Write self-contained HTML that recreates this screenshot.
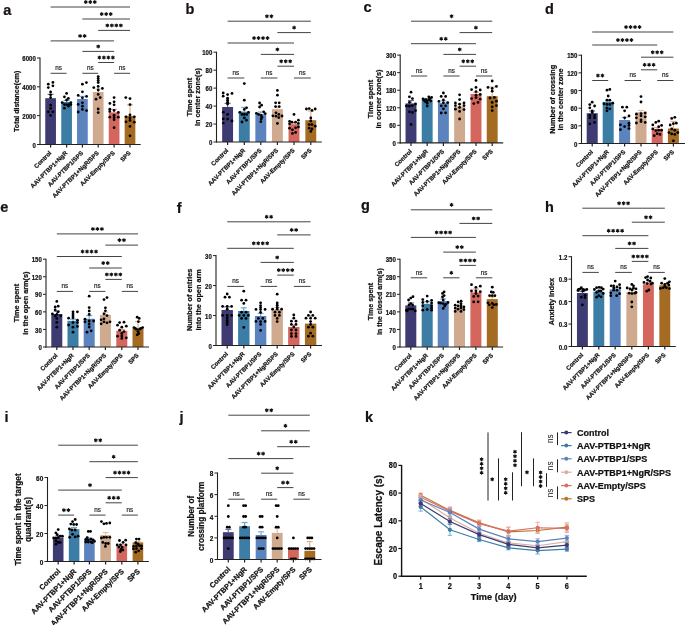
<!DOCTYPE html>
<html><head><meta charset="utf-8"><style>
html,body{margin:0;padding:0;background:#fff;}
svg{display:block;will-change:transform;}
text{font-family:"Liberation Sans", sans-serif;}
</style></head><body>
<svg width="685" height="625" viewBox="0 0 685 625">
<rect width="685" height="625" fill="#fff"/>
<text x="3.3" y="14.8" font-size="14.5" font-weight="bold" text-anchor="start" fill="#1a1212" stroke="#1a1212" stroke-width="0.22">a</text>
<rect x="45.25" y="98.2" width="10.7" height="46.3" fill="#3e3a72"/>
<rect x="61.25" y="102" width="10.7" height="42.5" fill="#3c7da6"/>
<rect x="77.05" y="99" width="10.7" height="45.5" fill="#5b83be"/>
<rect x="92.85" y="92" width="10.7" height="52.5" fill="#cfaa8f"/>
<rect x="108.75" y="112.4" width="10.7" height="32.1" fill="#d4665e"/>
<rect x="124.65" y="115.9" width="10.7" height="28.6" fill="#a56b22"/>
<line x1="50.6" y1="98.2" x2="50.6" y2="94.4" stroke="#6a66a0" stroke-width="1.2"/>
<line x1="47.6" y1="94.4" x2="53.6" y2="94.4" stroke="#6a66a0" stroke-width="1.2"/>
<line x1="66.6" y1="102" x2="66.6" y2="100.5" stroke="#6aa6cc" stroke-width="1.2"/>
<line x1="63.6" y1="100.5" x2="69.6" y2="100.5" stroke="#6aa6cc" stroke-width="1.2"/>
<line x1="82.4" y1="99" x2="82.4" y2="96.4" stroke="#86a6da" stroke-width="1.2"/>
<line x1="79.4" y1="96.4" x2="85.4" y2="96.4" stroke="#86a6da" stroke-width="1.2"/>
<line x1="98.2" y1="92" x2="98.2" y2="89" stroke="#e4c2aa" stroke-width="1.2"/>
<line x1="95.2" y1="89" x2="101.2" y2="89" stroke="#e4c2aa" stroke-width="1.2"/>
<line x1="114.1" y1="112.4" x2="114.1" y2="109.4" stroke="#f09a92" stroke-width="1.2"/>
<line x1="111.1" y1="109.4" x2="117.1" y2="109.4" stroke="#f09a92" stroke-width="1.2"/>
<line x1="130" y1="115.9" x2="130" y2="105" stroke="#e0b585" stroke-width="1.2"/>
<line x1="127" y1="105" x2="133" y2="105" stroke="#e0b585" stroke-width="1.2"/>
<circle cx="48.3" cy="84.2" r="1.4" fill="#000"/>
<circle cx="52.9" cy="82.4" r="1.4" fill="#000"/>
<circle cx="48.3" cy="87.6" r="1.4" fill="#000"/>
<circle cx="52.9" cy="85.8" r="1.4" fill="#000"/>
<circle cx="50.6" cy="92" r="1.4" fill="#000"/>
<circle cx="50.6" cy="94.8" r="1.4" fill="#000"/>
<circle cx="50.6" cy="97.6" r="1.4" fill="#000"/>
<circle cx="50.6" cy="105.2" r="1.4" fill="#000"/>
<circle cx="50.6" cy="108.4" r="1.4" fill="#000"/>
<circle cx="48.3" cy="111.8" r="1.4" fill="#000"/>
<circle cx="52.9" cy="111.8" r="1.4" fill="#000"/>
<circle cx="50.6" cy="115.4" r="1.4" fill="#000"/>
<circle cx="66.6" cy="93.4" r="1.4" fill="#000"/>
<circle cx="64.4" cy="96.8" r="1.4" fill="#000"/>
<circle cx="68.4" cy="98.4" r="1.4" fill="#000"/>
<circle cx="66.6" cy="100" r="1.4" fill="#000"/>
<circle cx="62.2" cy="102.6" r="1.4" fill="#000"/>
<circle cx="70.8" cy="102.6" r="1.4" fill="#000"/>
<circle cx="64.4" cy="104.6" r="1.4" fill="#000"/>
<circle cx="66.6" cy="104.6" r="1.4" fill="#000"/>
<circle cx="68.8" cy="104.6" r="1.4" fill="#000"/>
<circle cx="70.8" cy="104.6" r="1.4" fill="#000"/>
<circle cx="68.4" cy="106.2" r="1.4" fill="#000"/>
<circle cx="64.4" cy="108.2" r="1.4" fill="#000"/>
<circle cx="86.4" cy="82.6" r="1.4" fill="#000"/>
<circle cx="82.4" cy="84.2" r="1.4" fill="#000"/>
<circle cx="82.4" cy="91.8" r="1.4" fill="#000"/>
<circle cx="78.2" cy="95.4" r="1.4" fill="#000"/>
<circle cx="86.6" cy="96.4" r="1.4" fill="#000"/>
<circle cx="82.4" cy="97.8" r="1.4" fill="#000"/>
<circle cx="78.2" cy="104.4" r="1.4" fill="#000"/>
<circle cx="82.4" cy="102.8" r="1.4" fill="#000"/>
<circle cx="82.4" cy="106.2" r="1.4" fill="#000"/>
<circle cx="82.4" cy="109.4" r="1.4" fill="#000"/>
<circle cx="86.6" cy="110.6" r="1.4" fill="#000"/>
<circle cx="78.2" cy="112" r="1.4" fill="#000"/>
<circle cx="98.2" cy="76.6" r="1.4" fill="#000"/>
<circle cx="98.2" cy="78.6" r="1.4" fill="#000"/>
<circle cx="98.2" cy="80.6" r="1.4" fill="#000"/>
<circle cx="98.2" cy="82.6" r="1.4" fill="#000"/>
<circle cx="93.8" cy="87.6" r="1.4" fill="#000"/>
<circle cx="98.2" cy="86.4" r="1.4" fill="#000"/>
<circle cx="102.4" cy="88.4" r="1.4" fill="#000"/>
<circle cx="98.2" cy="90" r="1.4" fill="#000"/>
<circle cx="98.2" cy="94.4" r="1.4" fill="#000"/>
<circle cx="100.2" cy="97.6" r="1.4" fill="#000"/>
<circle cx="96" cy="99.2" r="1.4" fill="#000"/>
<circle cx="98.2" cy="109" r="1.4" fill="#000"/>
<circle cx="98.2" cy="112.6" r="1.4" fill="#000"/>
<circle cx="114.1" cy="97.6" r="1.4" fill="#000"/>
<circle cx="109.9" cy="103.4" r="1.4" fill="#000"/>
<circle cx="114.1" cy="101.8" r="1.4" fill="#000"/>
<circle cx="114.1" cy="104.8" r="1.4" fill="#000"/>
<circle cx="109.8" cy="109.2" r="1.4" fill="#000"/>
<circle cx="109.8" cy="111.4" r="1.4" fill="#000"/>
<circle cx="114.1" cy="110.4" r="1.4" fill="#000"/>
<circle cx="118.3" cy="112.4" r="1.4" fill="#000"/>
<circle cx="109.8" cy="117.2" r="1.4" fill="#000"/>
<circle cx="114.1" cy="115.2" r="1.4" fill="#000"/>
<circle cx="114.1" cy="117.5" r="1.4" fill="#000"/>
<circle cx="114.1" cy="119.7" r="1.4" fill="#000"/>
<circle cx="118.3" cy="117.2" r="1.4" fill="#000"/>
<circle cx="114.1" cy="127.7" r="1.4" fill="#000"/>
<circle cx="125.8" cy="97.6" r="1.4" fill="#000"/>
<circle cx="130" cy="98.6" r="1.4" fill="#000"/>
<circle cx="130" cy="104.6" r="1.4" fill="#000"/>
<circle cx="130" cy="114.9" r="1.4" fill="#000"/>
<circle cx="126" cy="116.8" r="1.4" fill="#000"/>
<circle cx="134.3" cy="116.8" r="1.4" fill="#000"/>
<circle cx="130" cy="117.8" r="1.4" fill="#000"/>
<circle cx="130" cy="120.4" r="1.4" fill="#000"/>
<circle cx="126" cy="121.8" r="1.4" fill="#000"/>
<circle cx="134.3" cy="122.2" r="1.4" fill="#000"/>
<circle cx="130" cy="126.4" r="1.4" fill="#000"/>
<circle cx="130" cy="135.8" r="1.4" fill="#000"/>
<line x1="40" y1="57.5" x2="40" y2="145" stroke="#222" stroke-width="1.1"/>
<line x1="39.5" y1="144.5" x2="140.7" y2="144.5" stroke="#222" stroke-width="1.1"/>
<line x1="37" y1="144.5" x2="40" y2="144.5" stroke="#222" stroke-width="1"/>
<text x="35.8" y="147.64" font-size="7.13" font-weight="bold" text-anchor="end" fill="#111" stroke="#111" stroke-width="0.22" transform="translate(35.8 147.64) scale(0.85 1) translate(-35.8 -147.64)">0</text>
<line x1="37" y1="115.67" x2="40" y2="115.67" stroke="#222" stroke-width="1"/>
<text x="35.8" y="118.8" font-size="7.13" font-weight="bold" text-anchor="end" fill="#111" stroke="#111" stroke-width="0.22" transform="translate(35.8 118.8) scale(0.85 1) translate(-35.8 -118.8)">2000</text>
<line x1="37" y1="86.83" x2="40" y2="86.83" stroke="#222" stroke-width="1"/>
<text x="35.8" y="89.97" font-size="7.13" font-weight="bold" text-anchor="end" fill="#111" stroke="#111" stroke-width="0.22" transform="translate(35.8 89.97) scale(0.85 1) translate(-35.8 -89.97)">4000</text>
<line x1="37" y1="58" x2="40" y2="58" stroke="#222" stroke-width="1"/>
<text x="35.8" y="61.14" font-size="7.13" font-weight="bold" text-anchor="end" fill="#111" stroke="#111" stroke-width="0.22" transform="translate(35.8 61.14) scale(0.85 1) translate(-35.8 -61.14)">6000</text>
<line x1="50.6" y1="144.5" x2="50.6" y2="147.5" stroke="#222" stroke-width="1.2"/>
<line x1="66.6" y1="144.5" x2="66.6" y2="147.5" stroke="#222" stroke-width="1.2"/>
<line x1="82.4" y1="144.5" x2="82.4" y2="147.5" stroke="#222" stroke-width="1.2"/>
<line x1="98.2" y1="144.5" x2="98.2" y2="147.5" stroke="#222" stroke-width="1.2"/>
<line x1="114.1" y1="144.5" x2="114.1" y2="147.5" stroke="#222" stroke-width="1.2"/>
<line x1="130" y1="144.5" x2="130" y2="147.5" stroke="#222" stroke-width="1.2"/>
<text x="51.8" y="153.5" font-size="6.05" font-weight="bold" text-anchor="end" fill="#111" stroke="#111" stroke-width="0.22" transform="rotate(-45 51.8 153.5)">Control</text>
<text x="67.8" y="153.5" font-size="6.05" font-weight="bold" text-anchor="end" fill="#111" stroke="#111" stroke-width="0.22" transform="rotate(-45 67.8 153.5)">AAV-PTBP1+NgR</text>
<text x="83.6" y="153.5" font-size="6.05" font-weight="bold" text-anchor="end" fill="#111" stroke="#111" stroke-width="0.22" transform="rotate(-45 83.6 153.5)">AAV-PTBP1/SPS</text>
<text x="99.4" y="153.5" font-size="6.05" font-weight="bold" text-anchor="end" fill="#111" stroke="#111" stroke-width="0.22" transform="rotate(-45 99.4 153.5)">AAV-PTBP1+NgR/SPS</text>
<text x="115.3" y="153.5" font-size="6.05" font-weight="bold" text-anchor="end" fill="#111" stroke="#111" stroke-width="0.22" transform="rotate(-45 115.3 153.5)">AAV-Empty/SPS</text>
<text x="131.2" y="153.5" font-size="6.05" font-weight="bold" text-anchor="end" fill="#111" stroke="#111" stroke-width="0.22" transform="rotate(-45 131.2 153.5)">SPS</text>
<text x="19.2" y="101.25" font-size="7" font-weight="bold" text-anchor="middle" fill="#111" stroke="#111" stroke-width="0.22" transform="rotate(-90 19.2 101.25)">Total distance(cm)</text>
<line x1="50.6" y1="7" x2="130" y2="7" stroke="#444" stroke-width="1"/>
<path d="M85.8 0.55L85.8 3.45M87.06 1.27L84.54 2.73M87.06 2.72L84.54 1.28" stroke="#111" stroke-width="1.15" stroke-linecap="round"/>
<path d="M90.3 0.55L90.3 3.45M91.56 1.27L89.04 2.73M91.56 2.72L89.04 1.28" stroke="#111" stroke-width="1.15" stroke-linecap="round"/>
<path d="M94.8 0.55L94.8 3.45M96.06 1.27L93.54 2.73M96.06 2.72L93.54 1.28" stroke="#111" stroke-width="1.15" stroke-linecap="round"/>
<line x1="82.4" y1="19" x2="130" y2="19" stroke="#444" stroke-width="1"/>
<path d="M101.7 12.55L101.7 15.45M102.96 13.28L100.44 14.72M102.96 14.72L100.44 13.28" stroke="#111" stroke-width="1.15" stroke-linecap="round"/>
<path d="M106.2 12.55L106.2 15.45M107.46 13.28L104.94 14.72M107.46 14.72L104.94 13.28" stroke="#111" stroke-width="1.15" stroke-linecap="round"/>
<path d="M110.7 12.55L110.7 15.45M111.96 13.28L109.44 14.72M111.96 14.72L109.44 13.28" stroke="#111" stroke-width="1.15" stroke-linecap="round"/>
<line x1="98.2" y1="30.4" x2="130" y2="30.4" stroke="#444" stroke-width="1"/>
<path d="M107.35 23.95L107.35 26.85M108.61 24.67L106.09 26.12M108.61 26.12L106.09 24.68" stroke="#111" stroke-width="1.15" stroke-linecap="round"/>
<path d="M111.85 23.95L111.85 26.85M113.11 24.67L110.59 26.12M113.11 26.12L110.59 24.68" stroke="#111" stroke-width="1.15" stroke-linecap="round"/>
<path d="M116.35 23.95L116.35 26.85M117.61 24.67L115.09 26.12M117.61 26.12L115.09 24.68" stroke="#111" stroke-width="1.15" stroke-linecap="round"/>
<path d="M120.85 23.95L120.85 26.85M122.11 24.67L119.59 26.12M122.11 26.12L119.59 24.68" stroke="#111" stroke-width="1.15" stroke-linecap="round"/>
<line x1="50.6" y1="40.9" x2="114.1" y2="40.9" stroke="#444" stroke-width="1"/>
<path d="M80.1 34.45L80.1 37.35M81.36 35.17L78.84 36.62M81.36 36.62L78.84 35.17" stroke="#111" stroke-width="1.15" stroke-linecap="round"/>
<path d="M84.6 34.45L84.6 37.35M85.86 35.17L83.34 36.62M85.86 36.62L83.34 35.17" stroke="#111" stroke-width="1.15" stroke-linecap="round"/>
<line x1="82.4" y1="51.4" x2="114.1" y2="51.4" stroke="#444" stroke-width="1"/>
<path d="M98.25 44.95L98.25 47.85M99.51 45.67L96.99 47.12M99.51 47.12L96.99 45.67" stroke="#111" stroke-width="1.15" stroke-linecap="round"/>
<line x1="98.2" y1="62.5" x2="114.1" y2="62.5" stroke="#444" stroke-width="1"/>
<path d="M99.4 56.05L99.4 58.95M100.66 56.77L98.14 58.23M100.66 58.23L98.14 56.77" stroke="#111" stroke-width="1.15" stroke-linecap="round"/>
<path d="M103.9 56.05L103.9 58.95M105.16 56.77L102.64 58.23M105.16 58.23L102.64 56.77" stroke="#111" stroke-width="1.15" stroke-linecap="round"/>
<path d="M108.4 56.05L108.4 58.95M109.66 56.77L107.14 58.23M109.66 58.23L107.14 56.77" stroke="#111" stroke-width="1.15" stroke-linecap="round"/>
<path d="M112.9 56.05L112.9 58.95M114.16 56.77L111.64 58.23M114.16 58.23L111.64 56.77" stroke="#111" stroke-width="1.15" stroke-linecap="round"/>
<line x1="50.6" y1="73.3" x2="66.6" y2="73.3" stroke="#444" stroke-width="1"/>
<text x="58.6" y="70.2" font-size="6.3" font-weight="normal" text-anchor="middle" fill="#222" stroke="#222" stroke-width="0.18">ns</text>
<line x1="82.4" y1="73.3" x2="98.2" y2="73.3" stroke="#444" stroke-width="1"/>
<text x="90.3" y="70.2" font-size="6.3" font-weight="normal" text-anchor="middle" fill="#222" stroke="#222" stroke-width="0.18">ns</text>
<line x1="114.1" y1="73.3" x2="130" y2="73.3" stroke="#444" stroke-width="1"/>
<text x="122.05" y="70.2" font-size="6.3" font-weight="normal" text-anchor="middle" fill="#222" stroke="#222" stroke-width="0.18">ns</text>
<text x="185.5" y="13.6" font-size="14.5" font-weight="bold" text-anchor="start" fill="#1a1212" stroke="#1a1212" stroke-width="0.22">b</text>
<rect x="222.15" y="107" width="10.9" height="35" fill="#3e3a72"/>
<rect x="238.85" y="111.6" width="10.9" height="30.4" fill="#3c7da6"/>
<rect x="255.35" y="114.2" width="10.9" height="27.8" fill="#5b83be"/>
<rect x="271.95" y="109.2" width="10.9" height="32.8" fill="#cfaa8f"/>
<rect x="288.55" y="124.2" width="10.9" height="17.8" fill="#d4665e"/>
<rect x="305.35" y="120.2" width="10.9" height="21.8" fill="#a56b22"/>
<line x1="227.6" y1="107" x2="227.6" y2="103.4" stroke="#6a66a0" stroke-width="1.2"/>
<line x1="224.6" y1="103.4" x2="230.6" y2="103.4" stroke="#6a66a0" stroke-width="1.2"/>
<line x1="244.3" y1="111.6" x2="244.3" y2="107.4" stroke="#6aa6cc" stroke-width="1.2"/>
<line x1="241.3" y1="107.4" x2="247.3" y2="107.4" stroke="#6aa6cc" stroke-width="1.2"/>
<line x1="260.8" y1="114.2" x2="260.8" y2="112" stroke="#86a6da" stroke-width="1.2"/>
<line x1="257.8" y1="112" x2="263.8" y2="112" stroke="#86a6da" stroke-width="1.2"/>
<line x1="277.4" y1="109.2" x2="277.4" y2="107" stroke="#e4c2aa" stroke-width="1.2"/>
<line x1="274.4" y1="107" x2="280.4" y2="107" stroke="#e4c2aa" stroke-width="1.2"/>
<line x1="294" y1="124.2" x2="294" y2="122.6" stroke="#f09a92" stroke-width="1.2"/>
<line x1="291" y1="122.6" x2="297" y2="122.6" stroke="#f09a92" stroke-width="1.2"/>
<line x1="310.8" y1="120.2" x2="310.8" y2="111" stroke="#e0b585" stroke-width="1.2"/>
<line x1="307.8" y1="111" x2="313.8" y2="111" stroke="#e0b585" stroke-width="1.2"/>
<circle cx="223.2" cy="93" r="1.4" fill="#000"/>
<circle cx="223.2" cy="96.2" r="1.4" fill="#000"/>
<circle cx="227.6" cy="94.6" r="1.4" fill="#000"/>
<circle cx="232" cy="93.4" r="1.4" fill="#000"/>
<circle cx="227.6" cy="98.2" r="1.4" fill="#000"/>
<circle cx="227.6" cy="100.2" r="1.4" fill="#000"/>
<circle cx="227.6" cy="102.2" r="1.4" fill="#000"/>
<circle cx="227.6" cy="104" r="1.4" fill="#000"/>
<circle cx="223.3" cy="112.2" r="1.4" fill="#000"/>
<circle cx="227.6" cy="114.4" r="1.4" fill="#000"/>
<circle cx="223.3" cy="118.9" r="1.4" fill="#000"/>
<circle cx="227.6" cy="119.1" r="1.4" fill="#000"/>
<circle cx="232" cy="121" r="1.4" fill="#000"/>
<circle cx="223.3" cy="123.1" r="1.4" fill="#000"/>
<circle cx="244.3" cy="83.6" r="1.4" fill="#000"/>
<circle cx="244.3" cy="100.2" r="1.4" fill="#000"/>
<circle cx="246.5" cy="107.8" r="1.4" fill="#000"/>
<circle cx="244.3" cy="109.4" r="1.4" fill="#000"/>
<circle cx="239.8" cy="112.3" r="1.4" fill="#000"/>
<circle cx="242" cy="114.4" r="1.4" fill="#000"/>
<circle cx="244.3" cy="114.4" r="1.4" fill="#000"/>
<circle cx="246.7" cy="114.4" r="1.4" fill="#000"/>
<circle cx="248.5" cy="112.3" r="1.4" fill="#000"/>
<circle cx="244.3" cy="117.9" r="1.4" fill="#000"/>
<circle cx="246.4" cy="120.2" r="1.4" fill="#000"/>
<circle cx="242" cy="122" r="1.4" fill="#000"/>
<circle cx="259.6" cy="103" r="1.4" fill="#000"/>
<circle cx="261.6" cy="105.2" r="1.4" fill="#000"/>
<circle cx="259.6" cy="107" r="1.4" fill="#000"/>
<circle cx="256.4" cy="113.3" r="1.4" fill="#000"/>
<circle cx="258.6" cy="114.4" r="1.4" fill="#000"/>
<circle cx="261.2" cy="115.5" r="1.4" fill="#000"/>
<circle cx="263.7" cy="111.8" r="1.4" fill="#000"/>
<circle cx="265.2" cy="113.6" r="1.4" fill="#000"/>
<circle cx="261.9" cy="117.3" r="1.4" fill="#000"/>
<circle cx="261.2" cy="119.1" r="1.4" fill="#000"/>
<circle cx="260.8" cy="121.7" r="1.4" fill="#000"/>
<circle cx="277.4" cy="90.4" r="1.4" fill="#000"/>
<circle cx="277.4" cy="95.2" r="1.4" fill="#000"/>
<circle cx="275.6" cy="102.8" r="1.4" fill="#000"/>
<circle cx="279.2" cy="102.8" r="1.4" fill="#000"/>
<circle cx="275.6" cy="106.6" r="1.4" fill="#000"/>
<circle cx="279.2" cy="106.6" r="1.4" fill="#000"/>
<circle cx="276" cy="112.8" r="1.4" fill="#000"/>
<circle cx="272.9" cy="115.8" r="1.4" fill="#000"/>
<circle cx="276" cy="116.2" r="1.4" fill="#000"/>
<circle cx="278.8" cy="114.4" r="1.4" fill="#000"/>
<circle cx="278.8" cy="117.6" r="1.4" fill="#000"/>
<circle cx="282" cy="116" r="1.4" fill="#000"/>
<circle cx="277.4" cy="123.4" r="1.4" fill="#000"/>
<circle cx="294" cy="114.4" r="1.4" fill="#000"/>
<circle cx="289.6" cy="121.4" r="1.4" fill="#000"/>
<circle cx="289.6" cy="123.8" r="1.4" fill="#000"/>
<circle cx="292" cy="122.2" r="1.4" fill="#000"/>
<circle cx="295.6" cy="122.2" r="1.4" fill="#000"/>
<circle cx="298.4" cy="120.2" r="1.4" fill="#000"/>
<circle cx="298.4" cy="123.4" r="1.4" fill="#000"/>
<circle cx="289.6" cy="128.2" r="1.4" fill="#000"/>
<circle cx="292.4" cy="129.8" r="1.4" fill="#000"/>
<circle cx="295.6" cy="127.8" r="1.4" fill="#000"/>
<circle cx="298.4" cy="127" r="1.4" fill="#000"/>
<circle cx="292.4" cy="133.4" r="1.4" fill="#000"/>
<circle cx="295.6" cy="132.4" r="1.4" fill="#000"/>
<circle cx="306.4" cy="109" r="1.4" fill="#000"/>
<circle cx="309.2" cy="108.6" r="1.4" fill="#000"/>
<circle cx="312" cy="110.4" r="1.4" fill="#000"/>
<circle cx="315.2" cy="109" r="1.4" fill="#000"/>
<circle cx="310.8" cy="118" r="1.4" fill="#000"/>
<circle cx="310.8" cy="121" r="1.4" fill="#000"/>
<circle cx="309.2" cy="124.6" r="1.4" fill="#000"/>
<circle cx="312" cy="124.6" r="1.4" fill="#000"/>
<circle cx="315.2" cy="126.2" r="1.4" fill="#000"/>
<circle cx="309.2" cy="128.2" r="1.4" fill="#000"/>
<circle cx="312" cy="129" r="1.4" fill="#000"/>
<circle cx="310.8" cy="131.4" r="1.4" fill="#000"/>
<line x1="216.5" y1="51.7" x2="216.5" y2="142.5" stroke="#222" stroke-width="1.1"/>
<line x1="216" y1="142" x2="321.8" y2="142" stroke="#222" stroke-width="1.1"/>
<line x1="213.5" y1="142" x2="216.5" y2="142" stroke="#222" stroke-width="1"/>
<text x="212.3" y="145.14" font-size="7.13" font-weight="bold" text-anchor="end" fill="#111" stroke="#111" stroke-width="0.22" transform="translate(212.3 145.14) scale(0.85 1) translate(-212.3 -145.14)">0</text>
<line x1="213.5" y1="124.04" x2="216.5" y2="124.04" stroke="#222" stroke-width="1"/>
<text x="212.3" y="127.18" font-size="7.13" font-weight="bold" text-anchor="end" fill="#111" stroke="#111" stroke-width="0.22" transform="translate(212.3 127.18) scale(0.85 1) translate(-212.3 -127.18)">20</text>
<line x1="213.5" y1="106.08" x2="216.5" y2="106.08" stroke="#222" stroke-width="1"/>
<text x="212.3" y="109.22" font-size="7.13" font-weight="bold" text-anchor="end" fill="#111" stroke="#111" stroke-width="0.22" transform="translate(212.3 109.22) scale(0.85 1) translate(-212.3 -109.22)">40</text>
<line x1="213.5" y1="88.12" x2="216.5" y2="88.12" stroke="#222" stroke-width="1"/>
<text x="212.3" y="91.26" font-size="7.13" font-weight="bold" text-anchor="end" fill="#111" stroke="#111" stroke-width="0.22" transform="translate(212.3 91.26) scale(0.85 1) translate(-212.3 -91.26)">60</text>
<line x1="213.5" y1="70.16" x2="216.5" y2="70.16" stroke="#222" stroke-width="1"/>
<text x="212.3" y="73.3" font-size="7.13" font-weight="bold" text-anchor="end" fill="#111" stroke="#111" stroke-width="0.22" transform="translate(212.3 73.3) scale(0.85 1) translate(-212.3 -73.3)">80</text>
<line x1="213.5" y1="52.2" x2="216.5" y2="52.2" stroke="#222" stroke-width="1"/>
<text x="212.3" y="55.34" font-size="7.13" font-weight="bold" text-anchor="end" fill="#111" stroke="#111" stroke-width="0.22" transform="translate(212.3 55.34) scale(0.85 1) translate(-212.3 -55.34)">100</text>
<line x1="227.6" y1="142" x2="227.6" y2="145" stroke="#222" stroke-width="1.2"/>
<line x1="244.3" y1="142" x2="244.3" y2="145" stroke="#222" stroke-width="1.2"/>
<line x1="260.8" y1="142" x2="260.8" y2="145" stroke="#222" stroke-width="1.2"/>
<line x1="277.4" y1="142" x2="277.4" y2="145" stroke="#222" stroke-width="1.2"/>
<line x1="294" y1="142" x2="294" y2="145" stroke="#222" stroke-width="1.2"/>
<line x1="310.8" y1="142" x2="310.8" y2="145" stroke="#222" stroke-width="1.2"/>
<text x="228.8" y="151" font-size="6.05" font-weight="bold" text-anchor="end" fill="#111" stroke="#111" stroke-width="0.22" transform="rotate(-45 228.8 151)">Control</text>
<text x="245.5" y="151" font-size="6.05" font-weight="bold" text-anchor="end" fill="#111" stroke="#111" stroke-width="0.22" transform="rotate(-45 245.5 151)">AAV-PTBP1+NgR</text>
<text x="262" y="151" font-size="6.05" font-weight="bold" text-anchor="end" fill="#111" stroke="#111" stroke-width="0.22" transform="rotate(-45 262 151)">AAV-PTBP1/SPS</text>
<text x="278.6" y="151" font-size="6.05" font-weight="bold" text-anchor="end" fill="#111" stroke="#111" stroke-width="0.22" transform="rotate(-45 278.6 151)">AAV-PTBP1+NgR/SPS</text>
<text x="295.2" y="151" font-size="6.05" font-weight="bold" text-anchor="end" fill="#111" stroke="#111" stroke-width="0.22" transform="rotate(-45 295.2 151)">AAV-Empty/SPS</text>
<text x="312" y="151" font-size="6.05" font-weight="bold" text-anchor="end" fill="#111" stroke="#111" stroke-width="0.22" transform="rotate(-45 312 151)">SPS</text>
<text x="192.1" y="97.1" font-size="7.3" font-weight="bold" text-anchor="middle" fill="#111" stroke="#111" stroke-width="0.22" transform="rotate(-90 192.1 97.1)">Time spent</text>
<text x="199.7" y="97.1" font-size="7.3" font-weight="bold" text-anchor="middle" fill="#111" stroke="#111" stroke-width="0.22" transform="rotate(-90 199.7 97.1)">in center zone(s)</text>
<line x1="227.6" y1="21.2" x2="310.8" y2="21.2" stroke="#444" stroke-width="1"/>
<path d="M266.95 14.75L266.95 17.65M268.21 15.47L265.69 16.93M268.21 16.92L265.69 15.47" stroke="#111" stroke-width="1.15" stroke-linecap="round"/>
<path d="M271.45 14.75L271.45 17.65M272.71 15.47L270.19 16.93M272.71 16.92L270.19 15.47" stroke="#111" stroke-width="1.15" stroke-linecap="round"/>
<line x1="277.4" y1="32.6" x2="310.8" y2="32.6" stroke="#444" stroke-width="1"/>
<path d="M294.1 26.15L294.1 29.05M295.36 26.88L292.84 28.33M295.36 28.32L292.84 26.88" stroke="#111" stroke-width="1.15" stroke-linecap="round"/>
<line x1="227.6" y1="43" x2="294" y2="43" stroke="#444" stroke-width="1"/>
<path d="M254.05 36.55L254.05 39.45M255.31 37.27L252.79 38.73M255.31 38.73L252.79 37.27" stroke="#111" stroke-width="1.15" stroke-linecap="round"/>
<path d="M258.55 36.55L258.55 39.45M259.81 37.27L257.29 38.73M259.81 38.73L257.29 37.27" stroke="#111" stroke-width="1.15" stroke-linecap="round"/>
<path d="M263.05 36.55L263.05 39.45M264.31 37.27L261.79 38.73M264.31 38.73L261.79 37.27" stroke="#111" stroke-width="1.15" stroke-linecap="round"/>
<path d="M267.55 36.55L267.55 39.45M268.81 37.27L266.29 38.73M268.81 38.73L266.29 37.27" stroke="#111" stroke-width="1.15" stroke-linecap="round"/>
<line x1="260.8" y1="54.4" x2="294" y2="54.4" stroke="#444" stroke-width="1"/>
<path d="M277.4 47.95L277.4 50.85M278.66 48.67L276.14 50.12M278.66 50.12L276.14 48.67" stroke="#111" stroke-width="1.15" stroke-linecap="round"/>
<line x1="277.4" y1="66.2" x2="294" y2="66.2" stroke="#444" stroke-width="1"/>
<path d="M281.2 59.75L281.2 62.65M282.46 60.48L279.94 61.93M282.46 61.93L279.94 60.48" stroke="#111" stroke-width="1.15" stroke-linecap="round"/>
<path d="M285.7 59.75L285.7 62.65M286.96 60.48L284.44 61.93M286.96 61.93L284.44 60.48" stroke="#111" stroke-width="1.15" stroke-linecap="round"/>
<path d="M290.2 59.75L290.2 62.65M291.46 60.48L288.94 61.93M291.46 61.93L288.94 60.48" stroke="#111" stroke-width="1.15" stroke-linecap="round"/>
<line x1="227.6" y1="78" x2="244.3" y2="78" stroke="#444" stroke-width="1"/>
<text x="235.95" y="74.9" font-size="6.3" font-weight="normal" text-anchor="middle" fill="#222" stroke="#222" stroke-width="0.18">ns</text>
<line x1="260.8" y1="78" x2="277.4" y2="78" stroke="#444" stroke-width="1"/>
<text x="269.1" y="74.9" font-size="6.3" font-weight="normal" text-anchor="middle" fill="#222" stroke="#222" stroke-width="0.18">ns</text>
<line x1="294" y1="78" x2="310.8" y2="78" stroke="#444" stroke-width="1"/>
<text x="302.4" y="74.9" font-size="6.3" font-weight="normal" text-anchor="middle" fill="#222" stroke="#222" stroke-width="0.18">ns</text>
<text x="363.6" y="11.8" font-size="14.5" font-weight="bold" text-anchor="start" fill="#1a1212" stroke="#1a1212" stroke-width="0.22">c</text>
<rect x="405.55" y="103.4" width="10.9" height="39.5" fill="#3e3a72"/>
<rect x="421.75" y="99.6" width="10.9" height="43.3" fill="#3c7da6"/>
<rect x="437.95" y="102.8" width="10.9" height="40.1" fill="#5b83be"/>
<rect x="454.15" y="106.4" width="10.9" height="36.5" fill="#cfaa8f"/>
<rect x="470.55" y="94" width="10.9" height="48.9" fill="#d4665e"/>
<rect x="486.75" y="96.2" width="10.9" height="46.7" fill="#a56b22"/>
<line x1="411" y1="103.4" x2="411" y2="100.5" stroke="#6a66a0" stroke-width="1.2"/>
<line x1="408" y1="100.5" x2="414" y2="100.5" stroke="#6a66a0" stroke-width="1.2"/>
<line x1="427.2" y1="99.6" x2="427.2" y2="98.5" stroke="#6aa6cc" stroke-width="1.2"/>
<line x1="424.2" y1="98.5" x2="430.2" y2="98.5" stroke="#6aa6cc" stroke-width="1.2"/>
<line x1="443.4" y1="102.8" x2="443.4" y2="100.8" stroke="#86a6da" stroke-width="1.2"/>
<line x1="440.4" y1="100.8" x2="446.4" y2="100.8" stroke="#86a6da" stroke-width="1.2"/>
<line x1="459.6" y1="106.4" x2="459.6" y2="104" stroke="#e4c2aa" stroke-width="1.2"/>
<line x1="456.6" y1="104" x2="462.6" y2="104" stroke="#e4c2aa" stroke-width="1.2"/>
<line x1="476" y1="94" x2="476" y2="92.4" stroke="#f09a92" stroke-width="1.2"/>
<line x1="473" y1="92.4" x2="479" y2="92.4" stroke="#f09a92" stroke-width="1.2"/>
<line x1="492.2" y1="96.2" x2="492.2" y2="87" stroke="#e0b585" stroke-width="1.2"/>
<line x1="489.2" y1="87" x2="495.2" y2="87" stroke="#e0b585" stroke-width="1.2"/>
<circle cx="411" cy="92.2" r="1.4" fill="#000"/>
<circle cx="409.4" cy="96.8" r="1.4" fill="#000"/>
<circle cx="412.4" cy="98.6" r="1.4" fill="#000"/>
<circle cx="409.4" cy="102.4" r="1.4" fill="#000"/>
<circle cx="406.4" cy="106" r="1.4" fill="#000"/>
<circle cx="409.4" cy="106.2" r="1.4" fill="#000"/>
<circle cx="412.4" cy="105.6" r="1.4" fill="#000"/>
<circle cx="415.5" cy="104" r="1.4" fill="#000"/>
<circle cx="409.4" cy="111.8" r="1.4" fill="#000"/>
<circle cx="412.4" cy="112.4" r="1.4" fill="#000"/>
<circle cx="415.5" cy="110.6" r="1.4" fill="#000"/>
<circle cx="411" cy="124.4" r="1.4" fill="#000"/>
<circle cx="423" cy="98.8" r="1.4" fill="#000"/>
<circle cx="426" cy="99.6" r="1.4" fill="#000"/>
<circle cx="428.8" cy="96.8" r="1.4" fill="#000"/>
<circle cx="431.6" cy="97.4" r="1.4" fill="#000"/>
<circle cx="425.2" cy="101.6" r="1.4" fill="#000"/>
<circle cx="427.2" cy="100.8" r="1.4" fill="#000"/>
<circle cx="429.2" cy="99.6" r="1.4" fill="#000"/>
<circle cx="427.2" cy="103.2" r="1.4" fill="#000"/>
<circle cx="427.2" cy="106" r="1.4" fill="#000"/>
<circle cx="430" cy="98.4" r="1.4" fill="#000"/>
<circle cx="424" cy="100.2" r="1.4" fill="#000"/>
<circle cx="430.8" cy="101" r="1.4" fill="#000"/>
<circle cx="443.4" cy="93" r="1.4" fill="#000"/>
<circle cx="441.2" cy="96.4" r="1.4" fill="#000"/>
<circle cx="445.6" cy="96.4" r="1.4" fill="#000"/>
<circle cx="443.4" cy="100" r="1.4" fill="#000"/>
<circle cx="438.9" cy="101.4" r="1.4" fill="#000"/>
<circle cx="443.4" cy="102.8" r="1.4" fill="#000"/>
<circle cx="447.7" cy="102.6" r="1.4" fill="#000"/>
<circle cx="441.2" cy="105.8" r="1.4" fill="#000"/>
<circle cx="445.6" cy="105.8" r="1.4" fill="#000"/>
<circle cx="443.4" cy="108.8" r="1.4" fill="#000"/>
<circle cx="441.2" cy="113" r="1.4" fill="#000"/>
<circle cx="445.6" cy="112.8" r="1.4" fill="#000"/>
<circle cx="459.6" cy="94.8" r="1.4" fill="#000"/>
<circle cx="459.6" cy="99.6" r="1.4" fill="#000"/>
<circle cx="455.4" cy="103" r="1.4" fill="#000"/>
<circle cx="455.4" cy="105.6" r="1.4" fill="#000"/>
<circle cx="459.6" cy="104.2" r="1.4" fill="#000"/>
<circle cx="464" cy="103" r="1.4" fill="#000"/>
<circle cx="464" cy="105.6" r="1.4" fill="#000"/>
<circle cx="459.6" cy="107.4" r="1.4" fill="#000"/>
<circle cx="455.4" cy="109.2" r="1.4" fill="#000"/>
<circle cx="464" cy="109.6" r="1.4" fill="#000"/>
<circle cx="459.6" cy="111.4" r="1.4" fill="#000"/>
<circle cx="459.6" cy="119" r="1.4" fill="#000"/>
<circle cx="476" cy="80.4" r="1.4" fill="#000"/>
<circle cx="476" cy="87.4" r="1.4" fill="#000"/>
<circle cx="471.6" cy="89.6" r="1.4" fill="#000"/>
<circle cx="480.2" cy="90" r="1.4" fill="#000"/>
<circle cx="476" cy="91.6" r="1.4" fill="#000"/>
<circle cx="476" cy="95.2" r="1.4" fill="#000"/>
<circle cx="480.2" cy="94.4" r="1.4" fill="#000"/>
<circle cx="476" cy="97.6" r="1.4" fill="#000"/>
<circle cx="471.6" cy="98.6" r="1.4" fill="#000"/>
<circle cx="480.2" cy="99.2" r="1.4" fill="#000"/>
<circle cx="473.8" cy="103.6" r="1.4" fill="#000"/>
<circle cx="478" cy="102.4" r="1.4" fill="#000"/>
<circle cx="492.2" cy="81" r="1.4" fill="#000"/>
<circle cx="488" cy="87.4" r="1.4" fill="#000"/>
<circle cx="496.4" cy="86.4" r="1.4" fill="#000"/>
<circle cx="492.2" cy="88.4" r="1.4" fill="#000"/>
<circle cx="492.2" cy="91.2" r="1.4" fill="#000"/>
<circle cx="490" cy="98" r="1.4" fill="#000"/>
<circle cx="494.4" cy="97.4" r="1.4" fill="#000"/>
<circle cx="492.2" cy="102.4" r="1.4" fill="#000"/>
<circle cx="496.4" cy="101.2" r="1.4" fill="#000"/>
<circle cx="496.4" cy="105.6" r="1.4" fill="#000"/>
<circle cx="492.2" cy="106.8" r="1.4" fill="#000"/>
<circle cx="492.2" cy="110.6" r="1.4" fill="#000"/>
<line x1="400.2" y1="54.6" x2="400.2" y2="143.4" stroke="#222" stroke-width="1.1"/>
<line x1="399.7" y1="142.9" x2="503.2" y2="142.9" stroke="#222" stroke-width="1.1"/>
<line x1="397.2" y1="142.9" x2="400.2" y2="142.9" stroke="#222" stroke-width="1"/>
<text x="396" y="146.04" font-size="7.13" font-weight="bold" text-anchor="end" fill="#111" stroke="#111" stroke-width="0.22" transform="translate(396 146.04) scale(0.85 1) translate(-396 -146.04)">0</text>
<line x1="397.2" y1="125.34" x2="400.2" y2="125.34" stroke="#222" stroke-width="1"/>
<text x="396" y="128.48" font-size="7.13" font-weight="bold" text-anchor="end" fill="#111" stroke="#111" stroke-width="0.22" transform="translate(396 128.48) scale(0.85 1) translate(-396 -128.48)">60</text>
<line x1="397.2" y1="107.78" x2="400.2" y2="107.78" stroke="#222" stroke-width="1"/>
<text x="396" y="110.92" font-size="7.13" font-weight="bold" text-anchor="end" fill="#111" stroke="#111" stroke-width="0.22" transform="translate(396 110.92) scale(0.85 1) translate(-396 -110.92)">120</text>
<line x1="397.2" y1="90.22" x2="400.2" y2="90.22" stroke="#222" stroke-width="1"/>
<text x="396" y="93.36" font-size="7.13" font-weight="bold" text-anchor="end" fill="#111" stroke="#111" stroke-width="0.22" transform="translate(396 93.36) scale(0.85 1) translate(-396 -93.36)">180</text>
<line x1="397.2" y1="72.66" x2="400.2" y2="72.66" stroke="#222" stroke-width="1"/>
<text x="396" y="75.8" font-size="7.13" font-weight="bold" text-anchor="end" fill="#111" stroke="#111" stroke-width="0.22" transform="translate(396 75.8) scale(0.85 1) translate(-396 -75.8)">240</text>
<line x1="397.2" y1="55.1" x2="400.2" y2="55.1" stroke="#222" stroke-width="1"/>
<text x="396" y="58.24" font-size="7.13" font-weight="bold" text-anchor="end" fill="#111" stroke="#111" stroke-width="0.22" transform="translate(396 58.24) scale(0.85 1) translate(-396 -58.24)">300</text>
<line x1="411" y1="142.9" x2="411" y2="145.9" stroke="#222" stroke-width="1.2"/>
<line x1="427.2" y1="142.9" x2="427.2" y2="145.9" stroke="#222" stroke-width="1.2"/>
<line x1="443.4" y1="142.9" x2="443.4" y2="145.9" stroke="#222" stroke-width="1.2"/>
<line x1="459.6" y1="142.9" x2="459.6" y2="145.9" stroke="#222" stroke-width="1.2"/>
<line x1="476" y1="142.9" x2="476" y2="145.9" stroke="#222" stroke-width="1.2"/>
<line x1="492.2" y1="142.9" x2="492.2" y2="145.9" stroke="#222" stroke-width="1.2"/>
<text x="412.2" y="151.9" font-size="6.05" font-weight="bold" text-anchor="end" fill="#111" stroke="#111" stroke-width="0.22" transform="rotate(-45 412.2 151.9)">Control</text>
<text x="428.4" y="151.9" font-size="6.05" font-weight="bold" text-anchor="end" fill="#111" stroke="#111" stroke-width="0.22" transform="rotate(-45 428.4 151.9)">AAV-PTBP1+NgR</text>
<text x="444.6" y="151.9" font-size="6.05" font-weight="bold" text-anchor="end" fill="#111" stroke="#111" stroke-width="0.22" transform="rotate(-45 444.6 151.9)">AAV-PTBP1/SPS</text>
<text x="460.8" y="151.9" font-size="6.05" font-weight="bold" text-anchor="end" fill="#111" stroke="#111" stroke-width="0.22" transform="rotate(-45 460.8 151.9)">AAV-PTBP1+NgR/SPS</text>
<text x="477.2" y="151.9" font-size="6.05" font-weight="bold" text-anchor="end" fill="#111" stroke="#111" stroke-width="0.22" transform="rotate(-45 477.2 151.9)">AAV-Empty/SPS</text>
<text x="493.4" y="151.9" font-size="6.05" font-weight="bold" text-anchor="end" fill="#111" stroke="#111" stroke-width="0.22" transform="rotate(-45 493.4 151.9)">SPS</text>
<text x="372.8" y="99" font-size="7.3" font-weight="bold" text-anchor="middle" fill="#111" stroke="#111" stroke-width="0.22" transform="rotate(-90 372.8 99)">Time spent</text>
<text x="380.6" y="99" font-size="7.3" font-weight="bold" text-anchor="middle" fill="#111" stroke="#111" stroke-width="0.22" transform="rotate(-90 380.6 99)">in corner zone(s)</text>
<line x1="411" y1="21.2" x2="492.2" y2="21.2" stroke="#444" stroke-width="1"/>
<path d="M451.6 14.75L451.6 17.65M452.86 15.47L450.34 16.93M452.86 16.92L450.34 15.47" stroke="#111" stroke-width="1.15" stroke-linecap="round"/>
<line x1="459.6" y1="32.6" x2="492.2" y2="32.6" stroke="#444" stroke-width="1"/>
<path d="M475.9 26.15L475.9 29.05M477.16 26.88L474.64 28.33M477.16 28.32L474.64 26.88" stroke="#111" stroke-width="1.15" stroke-linecap="round"/>
<line x1="411" y1="43.7" x2="476" y2="43.7" stroke="#444" stroke-width="1"/>
<path d="M441.25 37.25L441.25 40.15M442.51 37.98L439.99 39.43M442.51 39.43L439.99 37.98" stroke="#111" stroke-width="1.15" stroke-linecap="round"/>
<path d="M445.75 37.25L445.75 40.15M447.01 37.98L444.49 39.43M447.01 39.43L444.49 37.98" stroke="#111" stroke-width="1.15" stroke-linecap="round"/>
<line x1="443.4" y1="54.4" x2="476" y2="54.4" stroke="#444" stroke-width="1"/>
<path d="M459.7 47.95L459.7 50.85M460.96 48.67L458.44 50.12M460.96 50.12L458.44 48.67" stroke="#111" stroke-width="1.15" stroke-linecap="round"/>
<line x1="459.6" y1="66.2" x2="476" y2="66.2" stroke="#444" stroke-width="1"/>
<path d="M463.3 59.75L463.3 62.65M464.56 60.48L462.04 61.93M464.56 61.93L462.04 60.48" stroke="#111" stroke-width="1.15" stroke-linecap="round"/>
<path d="M467.8 59.75L467.8 62.65M469.06 60.48L466.54 61.93M469.06 61.93L466.54 60.48" stroke="#111" stroke-width="1.15" stroke-linecap="round"/>
<path d="M472.3 59.75L472.3 62.65M473.56 60.48L471.04 61.93M473.56 61.93L471.04 60.48" stroke="#111" stroke-width="1.15" stroke-linecap="round"/>
<line x1="411" y1="76" x2="427.2" y2="76" stroke="#444" stroke-width="1"/>
<text x="419.1" y="72.9" font-size="6.3" font-weight="normal" text-anchor="middle" fill="#222" stroke="#222" stroke-width="0.18">ns</text>
<line x1="443.4" y1="76" x2="459.6" y2="76" stroke="#444" stroke-width="1"/>
<text x="451.5" y="72.9" font-size="6.3" font-weight="normal" text-anchor="middle" fill="#222" stroke="#222" stroke-width="0.18">ns</text>
<line x1="476" y1="76" x2="492.2" y2="76" stroke="#444" stroke-width="1"/>
<text x="484.1" y="72.9" font-size="6.3" font-weight="normal" text-anchor="middle" fill="#222" stroke="#222" stroke-width="0.18">ns</text>
<text x="545" y="13.6" font-size="14.5" font-weight="bold" text-anchor="start" fill="#1a1212" stroke="#1a1212" stroke-width="0.22">d</text>
<rect x="586.7" y="113.2" width="11" height="30.3" fill="#3e3a72"/>
<rect x="602.7" y="101.8" width="11" height="41.7" fill="#3c7da6"/>
<rect x="619.1" y="120" width="11" height="23.5" fill="#5b83be"/>
<rect x="635.5" y="112.2" width="11" height="31.3" fill="#cfaa8f"/>
<rect x="651.7" y="128.9" width="11" height="14.6" fill="#d4665e"/>
<rect x="667.9" y="128.5" width="11" height="15" fill="#a56b22"/>
<line x1="592.2" y1="113.2" x2="592.2" y2="111" stroke="#6a66a0" stroke-width="1.2"/>
<line x1="589.2" y1="111" x2="595.2" y2="111" stroke="#6a66a0" stroke-width="1.2"/>
<line x1="608.2" y1="101.8" x2="608.2" y2="100" stroke="#6aa6cc" stroke-width="1.2"/>
<line x1="605.2" y1="100" x2="611.2" y2="100" stroke="#6aa6cc" stroke-width="1.2"/>
<line x1="624.6" y1="120" x2="624.6" y2="117.4" stroke="#86a6da" stroke-width="1.2"/>
<line x1="621.6" y1="117.4" x2="627.6" y2="117.4" stroke="#86a6da" stroke-width="1.2"/>
<line x1="641" y1="112.2" x2="641" y2="110.5" stroke="#e4c2aa" stroke-width="1.2"/>
<line x1="638" y1="110.5" x2="644" y2="110.5" stroke="#e4c2aa" stroke-width="1.2"/>
<line x1="657.2" y1="128.9" x2="657.2" y2="127.4" stroke="#f09a92" stroke-width="1.2"/>
<line x1="654.2" y1="127.4" x2="660.2" y2="127.4" stroke="#f09a92" stroke-width="1.2"/>
<line x1="673.4" y1="128.5" x2="673.4" y2="121.4" stroke="#e0b585" stroke-width="1.2"/>
<line x1="670.4" y1="121.4" x2="676.4" y2="121.4" stroke="#e0b585" stroke-width="1.2"/>
<circle cx="592.2" cy="102.2" r="1.4" fill="#000"/>
<circle cx="589.8" cy="104.6" r="1.4" fill="#000"/>
<circle cx="594.6" cy="106" r="1.4" fill="#000"/>
<circle cx="589.8" cy="107.8" r="1.4" fill="#000"/>
<circle cx="592.2" cy="111" r="1.4" fill="#000"/>
<circle cx="592.2" cy="112.6" r="1.4" fill="#000"/>
<circle cx="589.8" cy="115.4" r="1.4" fill="#000"/>
<circle cx="594.6" cy="115.4" r="1.4" fill="#000"/>
<circle cx="589.8" cy="117.8" r="1.4" fill="#000"/>
<circle cx="594.6" cy="117.8" r="1.4" fill="#000"/>
<circle cx="589.8" cy="123.8" r="1.4" fill="#000"/>
<circle cx="594.6" cy="122.4" r="1.4" fill="#000"/>
<circle cx="607" cy="90.2" r="1.4" fill="#000"/>
<circle cx="609.8" cy="89.4" r="1.4" fill="#000"/>
<circle cx="608.2" cy="96" r="1.4" fill="#000"/>
<circle cx="607" cy="100.2" r="1.4" fill="#000"/>
<circle cx="609.8" cy="100.2" r="1.4" fill="#000"/>
<circle cx="604" cy="103.8" r="1.4" fill="#000"/>
<circle cx="607" cy="104.4" r="1.4" fill="#000"/>
<circle cx="609.8" cy="104.4" r="1.4" fill="#000"/>
<circle cx="612.8" cy="103.2" r="1.4" fill="#000"/>
<circle cx="607" cy="108.2" r="1.4" fill="#000"/>
<circle cx="609.8" cy="108.8" r="1.4" fill="#000"/>
<circle cx="607" cy="110.8" r="1.4" fill="#000"/>
<circle cx="622.4" cy="107.2" r="1.4" fill="#000"/>
<circle cx="626.8" cy="107.2" r="1.4" fill="#000"/>
<circle cx="624.6" cy="110.8" r="1.4" fill="#000"/>
<circle cx="629" cy="116" r="1.4" fill="#000"/>
<circle cx="624.6" cy="117.8" r="1.4" fill="#000"/>
<circle cx="620.4" cy="124.8" r="1.4" fill="#000"/>
<circle cx="624.6" cy="126.6" r="1.4" fill="#000"/>
<circle cx="629" cy="123.2" r="1.4" fill="#000"/>
<circle cx="629" cy="125.4" r="1.4" fill="#000"/>
<circle cx="629" cy="128.6" r="1.4" fill="#000"/>
<circle cx="620.4" cy="129.6" r="1.4" fill="#000"/>
<circle cx="641" cy="96.6" r="1.4" fill="#000"/>
<circle cx="641" cy="102" r="1.4" fill="#000"/>
<circle cx="636.4" cy="114.2" r="1.4" fill="#000"/>
<circle cx="641" cy="113.6" r="1.4" fill="#000"/>
<circle cx="645.2" cy="113" r="1.4" fill="#000"/>
<circle cx="636.4" cy="117.8" r="1.4" fill="#000"/>
<circle cx="641" cy="115.8" r="1.4" fill="#000"/>
<circle cx="645.2" cy="116.8" r="1.4" fill="#000"/>
<circle cx="641" cy="119.8" r="1.4" fill="#000"/>
<circle cx="641" cy="121.6" r="1.4" fill="#000"/>
<circle cx="636.4" cy="123" r="1.4" fill="#000"/>
<circle cx="645.2" cy="122.4" r="1.4" fill="#000"/>
<circle cx="652.8" cy="124.9" r="1.4" fill="#000"/>
<circle cx="655.8" cy="122.4" r="1.4" fill="#000"/>
<circle cx="658.7" cy="121.2" r="1.4" fill="#000"/>
<circle cx="658.7" cy="126.7" r="1.4" fill="#000"/>
<circle cx="661.6" cy="125.4" r="1.4" fill="#000"/>
<circle cx="652.8" cy="128.9" r="1.4" fill="#000"/>
<circle cx="655.8" cy="130.6" r="1.4" fill="#000"/>
<circle cx="658.7" cy="130.2" r="1.4" fill="#000"/>
<circle cx="661.6" cy="130.2" r="1.4" fill="#000"/>
<circle cx="654.2" cy="135.7" r="1.4" fill="#000"/>
<circle cx="657.2" cy="133.7" r="1.4" fill="#000"/>
<circle cx="660" cy="134.4" r="1.4" fill="#000"/>
<circle cx="671.7" cy="118.4" r="1.4" fill="#000"/>
<circle cx="674.8" cy="117.3" r="1.4" fill="#000"/>
<circle cx="670.2" cy="125" r="1.4" fill="#000"/>
<circle cx="673.4" cy="123.7" r="1.4" fill="#000"/>
<circle cx="676.3" cy="123.2" r="1.4" fill="#000"/>
<circle cx="671.7" cy="128.9" r="1.4" fill="#000"/>
<circle cx="674.8" cy="130.2" r="1.4" fill="#000"/>
<circle cx="669" cy="132.6" r="1.4" fill="#000"/>
<circle cx="677.8" cy="132.6" r="1.4" fill="#000"/>
<circle cx="671.7" cy="133.9" r="1.4" fill="#000"/>
<circle cx="674.8" cy="134.4" r="1.4" fill="#000"/>
<circle cx="673.4" cy="140.8" r="1.4" fill="#000"/>
<line x1="581.5" y1="54.7" x2="581.5" y2="144" stroke="#222" stroke-width="1.1"/>
<line x1="581" y1="143.5" x2="685" y2="143.5" stroke="#222" stroke-width="1.1"/>
<line x1="578.5" y1="143.5" x2="581.5" y2="143.5" stroke="#222" stroke-width="1"/>
<text x="577.3" y="146.64" font-size="7.13" font-weight="bold" text-anchor="end" fill="#111" stroke="#111" stroke-width="0.22" transform="translate(577.3 146.64) scale(0.85 1) translate(-577.3 -146.64)">0</text>
<line x1="578.5" y1="125.84" x2="581.5" y2="125.84" stroke="#222" stroke-width="1"/>
<text x="577.3" y="128.98" font-size="7.13" font-weight="bold" text-anchor="end" fill="#111" stroke="#111" stroke-width="0.22" transform="translate(577.3 128.98) scale(0.85 1) translate(-577.3 -128.98)">30</text>
<line x1="578.5" y1="108.18" x2="581.5" y2="108.18" stroke="#222" stroke-width="1"/>
<text x="577.3" y="111.32" font-size="7.13" font-weight="bold" text-anchor="end" fill="#111" stroke="#111" stroke-width="0.22" transform="translate(577.3 111.32) scale(0.85 1) translate(-577.3 -111.32)">60</text>
<line x1="578.5" y1="90.52" x2="581.5" y2="90.52" stroke="#222" stroke-width="1"/>
<text x="577.3" y="93.66" font-size="7.13" font-weight="bold" text-anchor="end" fill="#111" stroke="#111" stroke-width="0.22" transform="translate(577.3 93.66) scale(0.85 1) translate(-577.3 -93.66)">90</text>
<line x1="578.5" y1="72.86" x2="581.5" y2="72.86" stroke="#222" stroke-width="1"/>
<text x="577.3" y="76" font-size="7.13" font-weight="bold" text-anchor="end" fill="#111" stroke="#111" stroke-width="0.22" transform="translate(577.3 76) scale(0.85 1) translate(-577.3 -76)">120</text>
<line x1="578.5" y1="55.2" x2="581.5" y2="55.2" stroke="#222" stroke-width="1"/>
<text x="577.3" y="58.34" font-size="7.13" font-weight="bold" text-anchor="end" fill="#111" stroke="#111" stroke-width="0.22" transform="translate(577.3 58.34) scale(0.85 1) translate(-577.3 -58.34)">150</text>
<line x1="592.2" y1="143.5" x2="592.2" y2="146.5" stroke="#222" stroke-width="1.2"/>
<line x1="608.2" y1="143.5" x2="608.2" y2="146.5" stroke="#222" stroke-width="1.2"/>
<line x1="624.6" y1="143.5" x2="624.6" y2="146.5" stroke="#222" stroke-width="1.2"/>
<line x1="641" y1="143.5" x2="641" y2="146.5" stroke="#222" stroke-width="1.2"/>
<line x1="657.2" y1="143.5" x2="657.2" y2="146.5" stroke="#222" stroke-width="1.2"/>
<line x1="673.4" y1="143.5" x2="673.4" y2="146.5" stroke="#222" stroke-width="1.2"/>
<text x="593.4" y="152.5" font-size="6.05" font-weight="bold" text-anchor="end" fill="#111" stroke="#111" stroke-width="0.22" transform="rotate(-45 593.4 152.5)">Control</text>
<text x="609.4" y="152.5" font-size="6.05" font-weight="bold" text-anchor="end" fill="#111" stroke="#111" stroke-width="0.22" transform="rotate(-45 609.4 152.5)">AAV-PTBP1+NgR</text>
<text x="625.8" y="152.5" font-size="6.05" font-weight="bold" text-anchor="end" fill="#111" stroke="#111" stroke-width="0.22" transform="rotate(-45 625.8 152.5)">AAV-PTBP1/SPS</text>
<text x="642.2" y="152.5" font-size="6.05" font-weight="bold" text-anchor="end" fill="#111" stroke="#111" stroke-width="0.22" transform="rotate(-45 642.2 152.5)">AAV-PTBP1+NgR/SPS</text>
<text x="658.4" y="152.5" font-size="6.05" font-weight="bold" text-anchor="end" fill="#111" stroke="#111" stroke-width="0.22" transform="rotate(-45 658.4 152.5)">AAV-Empty/SPS</text>
<text x="674.6" y="152.5" font-size="6.05" font-weight="bold" text-anchor="end" fill="#111" stroke="#111" stroke-width="0.22" transform="rotate(-45 674.6 152.5)">SPS</text>
<text x="554.6" y="99.35" font-size="7.3" font-weight="bold" text-anchor="middle" fill="#111" stroke="#111" stroke-width="0.22" transform="rotate(-90 554.6 99.35)">Number of crossing</text>
<text x="563.4" y="99.35" font-size="7.3" font-weight="bold" text-anchor="middle" fill="#111" stroke="#111" stroke-width="0.22" transform="rotate(-90 563.4 99.35)">in the center zone</text>
<line x1="592.2" y1="32" x2="673.4" y2="32" stroke="#444" stroke-width="1"/>
<path d="M626.05 25.55L626.05 28.45M627.31 26.27L624.79 27.73M627.31 27.72L624.79 26.28" stroke="#111" stroke-width="1.15" stroke-linecap="round"/>
<path d="M630.55 25.55L630.55 28.45M631.81 26.27L629.29 27.73M631.81 27.72L629.29 26.28" stroke="#111" stroke-width="1.15" stroke-linecap="round"/>
<path d="M635.05 25.55L635.05 28.45M636.31 26.27L633.79 27.73M636.31 27.72L633.79 26.28" stroke="#111" stroke-width="1.15" stroke-linecap="round"/>
<path d="M639.55 25.55L639.55 28.45M640.81 26.27L638.29 27.73M640.81 27.72L638.29 26.28" stroke="#111" stroke-width="1.15" stroke-linecap="round"/>
<line x1="592.2" y1="45" x2="657.2" y2="45" stroke="#444" stroke-width="1"/>
<path d="M617.95 38.55L617.95 41.45M619.21 39.27L616.69 40.73M619.21 40.73L616.69 39.27" stroke="#111" stroke-width="1.15" stroke-linecap="round"/>
<path d="M622.45 38.55L622.45 41.45M623.71 39.27L621.19 40.73M623.71 40.73L621.19 39.27" stroke="#111" stroke-width="1.15" stroke-linecap="round"/>
<path d="M626.95 38.55L626.95 41.45M628.21 39.27L625.69 40.73M628.21 40.73L625.69 39.27" stroke="#111" stroke-width="1.15" stroke-linecap="round"/>
<path d="M631.45 38.55L631.45 41.45M632.71 39.27L630.19 40.73M632.71 40.73L630.19 39.27" stroke="#111" stroke-width="1.15" stroke-linecap="round"/>
<line x1="641" y1="57.2" x2="673.4" y2="57.2" stroke="#444" stroke-width="1"/>
<path d="M652.7 50.75L652.7 53.65M653.96 51.48L651.44 52.93M653.96 52.93L651.44 51.48" stroke="#111" stroke-width="1.15" stroke-linecap="round"/>
<path d="M657.2 50.75L657.2 53.65M658.46 51.48L655.94 52.93M658.46 52.93L655.94 51.48" stroke="#111" stroke-width="1.15" stroke-linecap="round"/>
<path d="M661.7 50.75L661.7 53.65M662.96 51.48L660.44 52.93M662.96 52.93L660.44 51.48" stroke="#111" stroke-width="1.15" stroke-linecap="round"/>
<line x1="641" y1="69.8" x2="657.2" y2="69.8" stroke="#444" stroke-width="1"/>
<path d="M644.6 63.35L644.6 66.25M645.86 64.08L643.34 65.52M645.86 65.52L643.34 64.08" stroke="#111" stroke-width="1.15" stroke-linecap="round"/>
<path d="M649.1 63.35L649.1 66.25M650.36 64.08L647.84 65.52M650.36 65.52L647.84 64.08" stroke="#111" stroke-width="1.15" stroke-linecap="round"/>
<path d="M653.6 63.35L653.6 66.25M654.86 64.08L652.34 65.52M654.86 65.52L652.34 64.08" stroke="#111" stroke-width="1.15" stroke-linecap="round"/>
<line x1="592.2" y1="80.5" x2="608.2" y2="80.5" stroke="#444" stroke-width="1"/>
<path d="M597.95 74.05L597.95 76.95M599.21 74.78L596.69 76.22M599.21 76.22L596.69 74.78" stroke="#111" stroke-width="1.15" stroke-linecap="round"/>
<path d="M602.45 74.05L602.45 76.95M603.71 74.78L601.19 76.22M603.71 76.22L601.19 74.78" stroke="#111" stroke-width="1.15" stroke-linecap="round"/>
<line x1="624.6" y1="80.5" x2="641" y2="80.5" stroke="#444" stroke-width="1"/>
<text x="632.8" y="77.4" font-size="6.3" font-weight="normal" text-anchor="middle" fill="#222" stroke="#222" stroke-width="0.18">ns</text>
<line x1="657.2" y1="80.5" x2="673.4" y2="80.5" stroke="#444" stroke-width="1"/>
<text x="665.3" y="77.4" font-size="6.3" font-weight="normal" text-anchor="middle" fill="#222" stroke="#222" stroke-width="0.18">ns</text>
<text x="0.3" y="211.8" font-size="14.5" font-weight="bold" text-anchor="start" fill="#1a1212" stroke="#1a1212" stroke-width="0.22">e</text>
<rect x="51.3" y="314" width="11" height="33" fill="#3e3a72"/>
<rect x="67.5" y="320.8" width="11" height="26.2" fill="#3c7da6"/>
<rect x="83.7" y="318.8" width="11" height="28.2" fill="#5b83be"/>
<rect x="99.9" y="314.8" width="11" height="32.2" fill="#cfaa8f"/>
<rect x="116.3" y="330.8" width="11" height="16.2" fill="#d4665e"/>
<rect x="132.5" y="328.4" width="11" height="18.6" fill="#a56b22"/>
<line x1="56.8" y1="314" x2="56.8" y2="311" stroke="#6a66a0" stroke-width="1.2"/>
<line x1="53.8" y1="311" x2="59.8" y2="311" stroke="#6a66a0" stroke-width="1.2"/>
<line x1="73" y1="320.8" x2="73" y2="319.2" stroke="#6aa6cc" stroke-width="1.2"/>
<line x1="70" y1="319.2" x2="76" y2="319.2" stroke="#6aa6cc" stroke-width="1.2"/>
<line x1="89.2" y1="318.8" x2="89.2" y2="315.6" stroke="#86a6da" stroke-width="1.2"/>
<line x1="86.2" y1="315.6" x2="92.2" y2="315.6" stroke="#86a6da" stroke-width="1.2"/>
<line x1="105.4" y1="314.8" x2="105.4" y2="312.2" stroke="#e4c2aa" stroke-width="1.2"/>
<line x1="102.4" y1="312.2" x2="108.4" y2="312.2" stroke="#e4c2aa" stroke-width="1.2"/>
<line x1="121.8" y1="330.8" x2="121.8" y2="329.4" stroke="#f09a92" stroke-width="1.2"/>
<line x1="118.8" y1="329.4" x2="124.8" y2="329.4" stroke="#f09a92" stroke-width="1.2"/>
<line x1="138" y1="328.4" x2="138" y2="321.6" stroke="#e0b585" stroke-width="1.2"/>
<line x1="135" y1="321.6" x2="141" y2="321.6" stroke="#e0b585" stroke-width="1.2"/>
<circle cx="56.8" cy="301.4" r="1.4" fill="#000"/>
<circle cx="55.2" cy="307" r="1.4" fill="#000"/>
<circle cx="58.2" cy="306.2" r="1.4" fill="#000"/>
<circle cx="55.2" cy="310" r="1.4" fill="#000"/>
<circle cx="58.2" cy="311.8" r="1.4" fill="#000"/>
<circle cx="52.4" cy="313.8" r="1.4" fill="#000"/>
<circle cx="56.8" cy="314.4" r="1.4" fill="#000"/>
<circle cx="55.2" cy="316" r="1.4" fill="#000"/>
<circle cx="60.8" cy="315.8" r="1.4" fill="#000"/>
<circle cx="56.8" cy="318.4" r="1.4" fill="#000"/>
<circle cx="56.8" cy="322.4" r="1.4" fill="#000"/>
<circle cx="56.8" cy="327.2" r="1.4" fill="#000"/>
<circle cx="73" cy="311.8" r="1.4" fill="#000"/>
<circle cx="77.4" cy="311.8" r="1.4" fill="#000"/>
<circle cx="73" cy="314" r="1.4" fill="#000"/>
<circle cx="73" cy="316" r="1.4" fill="#000"/>
<circle cx="73" cy="317.8" r="1.4" fill="#000"/>
<circle cx="68.6" cy="318.2" r="1.4" fill="#000"/>
<circle cx="77.4" cy="320.2" r="1.4" fill="#000"/>
<circle cx="73" cy="322.6" r="1.4" fill="#000"/>
<circle cx="77.4" cy="322.6" r="1.4" fill="#000"/>
<circle cx="68.6" cy="325" r="1.4" fill="#000"/>
<circle cx="77.4" cy="326.4" r="1.4" fill="#000"/>
<circle cx="73" cy="327.2" r="1.4" fill="#000"/>
<circle cx="73" cy="332.2" r="1.4" fill="#000"/>
<circle cx="89.2" cy="296.2" r="1.4" fill="#000"/>
<circle cx="89.2" cy="307.6" r="1.4" fill="#000"/>
<circle cx="89.2" cy="311" r="1.4" fill="#000"/>
<circle cx="89.2" cy="314.4" r="1.4" fill="#000"/>
<circle cx="85" cy="319.2" r="1.4" fill="#000"/>
<circle cx="85" cy="321.8" r="1.4" fill="#000"/>
<circle cx="89.2" cy="321" r="1.4" fill="#000"/>
<circle cx="93.6" cy="321" r="1.4" fill="#000"/>
<circle cx="89.2" cy="324" r="1.4" fill="#000"/>
<circle cx="89.2" cy="327" r="1.4" fill="#000"/>
<circle cx="91.2" cy="330.8" r="1.4" fill="#000"/>
<circle cx="87" cy="332.2" r="1.4" fill="#000"/>
<circle cx="104" cy="299.6" r="1.4" fill="#000"/>
<circle cx="107" cy="297.6" r="1.4" fill="#000"/>
<circle cx="105.4" cy="307.8" r="1.4" fill="#000"/>
<circle cx="105.4" cy="310.8" r="1.4" fill="#000"/>
<circle cx="104" cy="313.8" r="1.4" fill="#000"/>
<circle cx="107" cy="315.6" r="1.4" fill="#000"/>
<circle cx="101.2" cy="319.8" r="1.4" fill="#000"/>
<circle cx="104" cy="318.8" r="1.4" fill="#000"/>
<circle cx="104" cy="321.8" r="1.4" fill="#000"/>
<circle cx="107" cy="322.8" r="1.4" fill="#000"/>
<circle cx="110" cy="321.8" r="1.4" fill="#000"/>
<circle cx="101.2" cy="323.8" r="1.4" fill="#000"/>
<circle cx="119.6" cy="322.6" r="1.4" fill="#000"/>
<circle cx="124" cy="322.2" r="1.4" fill="#000"/>
<circle cx="117.5" cy="325.2" r="1.4" fill="#000"/>
<circle cx="126.3" cy="326.2" r="1.4" fill="#000"/>
<circle cx="121.8" cy="327.2" r="1.4" fill="#000"/>
<circle cx="119.6" cy="330.2" r="1.4" fill="#000"/>
<circle cx="124" cy="331.6" r="1.4" fill="#000"/>
<circle cx="117.5" cy="336.2" r="1.4" fill="#000"/>
<circle cx="121.8" cy="336" r="1.4" fill="#000"/>
<circle cx="121.8" cy="338.4" r="1.4" fill="#000"/>
<circle cx="126.3" cy="337.8" r="1.4" fill="#000"/>
<circle cx="121.8" cy="333.5" r="1.4" fill="#000"/>
<circle cx="137.2" cy="317.2" r="1.4" fill="#000"/>
<circle cx="139.2" cy="318.4" r="1.4" fill="#000"/>
<circle cx="138.4" cy="321.6" r="1.4" fill="#000"/>
<circle cx="134" cy="327.6" r="1.4" fill="#000"/>
<circle cx="136.4" cy="329.2" r="1.4" fill="#000"/>
<circle cx="139.6" cy="329.2" r="1.4" fill="#000"/>
<circle cx="142.6" cy="327.6" r="1.4" fill="#000"/>
<circle cx="138" cy="331.6" r="1.4" fill="#000"/>
<circle cx="138.8" cy="333.6" r="1.4" fill="#000"/>
<circle cx="137.2" cy="334.8" r="1.4" fill="#000"/>
<circle cx="135.2" cy="328.4" r="1.4" fill="#000"/>
<circle cx="140.8" cy="328.4" r="1.4" fill="#000"/>
<line x1="46" y1="258.7" x2="46" y2="347.5" stroke="#222" stroke-width="1.1"/>
<line x1="45.5" y1="347" x2="149" y2="347" stroke="#222" stroke-width="1.1"/>
<line x1="43" y1="347" x2="46" y2="347" stroke="#222" stroke-width="1"/>
<text x="41.8" y="350.14" font-size="7.13" font-weight="bold" text-anchor="end" fill="#111" stroke="#111" stroke-width="0.22" transform="translate(41.8 350.14) scale(0.85 1) translate(-41.8 -350.14)">0</text>
<line x1="43" y1="329.44" x2="46" y2="329.44" stroke="#222" stroke-width="1"/>
<text x="41.8" y="332.58" font-size="7.13" font-weight="bold" text-anchor="end" fill="#111" stroke="#111" stroke-width="0.22" transform="translate(41.8 332.58) scale(0.85 1) translate(-41.8 -332.58)">30</text>
<line x1="43" y1="311.88" x2="46" y2="311.88" stroke="#222" stroke-width="1"/>
<text x="41.8" y="315.02" font-size="7.13" font-weight="bold" text-anchor="end" fill="#111" stroke="#111" stroke-width="0.22" transform="translate(41.8 315.02) scale(0.85 1) translate(-41.8 -315.02)">60</text>
<line x1="43" y1="294.32" x2="46" y2="294.32" stroke="#222" stroke-width="1"/>
<text x="41.8" y="297.46" font-size="7.13" font-weight="bold" text-anchor="end" fill="#111" stroke="#111" stroke-width="0.22" transform="translate(41.8 297.46) scale(0.85 1) translate(-41.8 -297.46)">90</text>
<line x1="43" y1="276.76" x2="46" y2="276.76" stroke="#222" stroke-width="1"/>
<text x="41.8" y="279.9" font-size="7.13" font-weight="bold" text-anchor="end" fill="#111" stroke="#111" stroke-width="0.22" transform="translate(41.8 279.9) scale(0.85 1) translate(-41.8 -279.9)">120</text>
<line x1="43" y1="259.2" x2="46" y2="259.2" stroke="#222" stroke-width="1"/>
<text x="41.8" y="262.34" font-size="7.13" font-weight="bold" text-anchor="end" fill="#111" stroke="#111" stroke-width="0.22" transform="translate(41.8 262.34) scale(0.85 1) translate(-41.8 -262.34)">150</text>
<line x1="56.8" y1="347" x2="56.8" y2="350" stroke="#222" stroke-width="1.2"/>
<line x1="73" y1="347" x2="73" y2="350" stroke="#222" stroke-width="1.2"/>
<line x1="89.2" y1="347" x2="89.2" y2="350" stroke="#222" stroke-width="1.2"/>
<line x1="105.4" y1="347" x2="105.4" y2="350" stroke="#222" stroke-width="1.2"/>
<line x1="121.8" y1="347" x2="121.8" y2="350" stroke="#222" stroke-width="1.2"/>
<line x1="138" y1="347" x2="138" y2="350" stroke="#222" stroke-width="1.2"/>
<text x="58" y="356" font-size="6.05" font-weight="bold" text-anchor="end" fill="#111" stroke="#111" stroke-width="0.22" transform="rotate(-45 58 356)">Control</text>
<text x="74.2" y="356" font-size="6.05" font-weight="bold" text-anchor="end" fill="#111" stroke="#111" stroke-width="0.22" transform="rotate(-45 74.2 356)">AAV-PTBP1+NgR</text>
<text x="90.4" y="356" font-size="6.05" font-weight="bold" text-anchor="end" fill="#111" stroke="#111" stroke-width="0.22" transform="rotate(-45 90.4 356)">AAV-PTBP1/SPS</text>
<text x="106.6" y="356" font-size="6.05" font-weight="bold" text-anchor="end" fill="#111" stroke="#111" stroke-width="0.22" transform="rotate(-45 106.6 356)">AAV-PTBP1+NgR/SPS</text>
<text x="123" y="356" font-size="6.05" font-weight="bold" text-anchor="end" fill="#111" stroke="#111" stroke-width="0.22" transform="rotate(-45 123 356)">AAV-Empty/SPS</text>
<text x="139.2" y="356" font-size="6.05" font-weight="bold" text-anchor="end" fill="#111" stroke="#111" stroke-width="0.22" transform="rotate(-45 139.2 356)">SPS</text>
<text x="19" y="303.1" font-size="7.3" font-weight="bold" text-anchor="middle" fill="#111" stroke="#111" stroke-width="0.22" transform="rotate(-90 19 303.1)">Time spent</text>
<text x="27.6" y="303.1" font-size="7.3" font-weight="bold" text-anchor="middle" fill="#111" stroke="#111" stroke-width="0.22" transform="rotate(-90 27.6 303.1)">in the open arm(s)</text>
<line x1="56.8" y1="233.9" x2="138" y2="233.9" stroke="#444" stroke-width="1"/>
<path d="M92.9 227.45L92.9 230.35M94.16 228.18L91.64 229.62M94.16 229.62L91.64 228.18" stroke="#111" stroke-width="1.15" stroke-linecap="round"/>
<path d="M97.4 227.45L97.4 230.35M98.66 228.18L96.14 229.62M98.66 229.62L96.14 228.18" stroke="#111" stroke-width="1.15" stroke-linecap="round"/>
<path d="M101.9 227.45L101.9 230.35M103.16 228.18L100.64 229.62M103.16 229.62L100.64 228.18" stroke="#111" stroke-width="1.15" stroke-linecap="round"/>
<line x1="105.4" y1="245.1" x2="138" y2="245.1" stroke="#444" stroke-width="1"/>
<path d="M119.45 238.65L119.45 241.55M120.71 239.38L118.19 240.82M120.71 240.82L118.19 239.38" stroke="#111" stroke-width="1.15" stroke-linecap="round"/>
<path d="M123.95 238.65L123.95 241.55M125.21 239.38L122.69 240.82M125.21 240.82L122.69 239.38" stroke="#111" stroke-width="1.15" stroke-linecap="round"/>
<line x1="56.8" y1="256.5" x2="121.8" y2="256.5" stroke="#444" stroke-width="1"/>
<path d="M82.55 250.05L82.55 252.95M83.81 250.78L81.29 252.22M83.81 252.22L81.29 250.78" stroke="#111" stroke-width="1.15" stroke-linecap="round"/>
<path d="M87.05 250.05L87.05 252.95M88.31 250.78L85.79 252.22M88.31 252.22L85.79 250.78" stroke="#111" stroke-width="1.15" stroke-linecap="round"/>
<path d="M91.55 250.05L91.55 252.95M92.81 250.78L90.29 252.22M92.81 252.22L90.29 250.78" stroke="#111" stroke-width="1.15" stroke-linecap="round"/>
<path d="M96.05 250.05L96.05 252.95M97.31 250.78L94.79 252.22M97.31 252.22L94.79 250.78" stroke="#111" stroke-width="1.15" stroke-linecap="round"/>
<line x1="89.2" y1="268" x2="121.8" y2="268" stroke="#444" stroke-width="1"/>
<path d="M103.25 261.55L103.25 264.45M104.51 262.27L101.99 263.73M104.51 263.73L101.99 262.27" stroke="#111" stroke-width="1.15" stroke-linecap="round"/>
<path d="M107.75 261.55L107.75 264.45M109.01 262.27L106.49 263.73M109.01 263.73L106.49 262.27" stroke="#111" stroke-width="1.15" stroke-linecap="round"/>
<line x1="105.4" y1="279.4" x2="121.8" y2="279.4" stroke="#444" stroke-width="1"/>
<path d="M106.85 272.95L106.85 275.85M108.11 273.67L105.59 275.12M108.11 275.12L105.59 273.67" stroke="#111" stroke-width="1.15" stroke-linecap="round"/>
<path d="M111.35 272.95L111.35 275.85M112.61 273.67L110.09 275.12M112.61 275.12L110.09 273.67" stroke="#111" stroke-width="1.15" stroke-linecap="round"/>
<path d="M115.85 272.95L115.85 275.85M117.11 273.67L114.59 275.12M117.11 275.12L114.59 273.67" stroke="#111" stroke-width="1.15" stroke-linecap="round"/>
<path d="M120.35 272.95L120.35 275.85M121.61 273.67L119.09 275.12M121.61 275.12L119.09 273.67" stroke="#111" stroke-width="1.15" stroke-linecap="round"/>
<line x1="56.8" y1="291.4" x2="73" y2="291.4" stroke="#444" stroke-width="1"/>
<text x="64.9" y="288.3" font-size="6.3" font-weight="normal" text-anchor="middle" fill="#222" stroke="#222" stroke-width="0.18">ns</text>
<line x1="89.2" y1="291.4" x2="105.4" y2="291.4" stroke="#444" stroke-width="1"/>
<text x="97.3" y="288.3" font-size="6.3" font-weight="normal" text-anchor="middle" fill="#222" stroke="#222" stroke-width="0.18">ns</text>
<line x1="121.8" y1="291.4" x2="138" y2="291.4" stroke="#444" stroke-width="1"/>
<text x="129.9" y="288.3" font-size="6.3" font-weight="normal" text-anchor="middle" fill="#222" stroke="#222" stroke-width="0.18">ns</text>
<text x="176.7" y="213.1" font-size="14.5" font-weight="bold" text-anchor="start" fill="#1a1212" stroke="#1a1212" stroke-width="0.22">f</text>
<rect x="221.5" y="310" width="11.4" height="35.5" fill="#3e3a72"/>
<rect x="238.1" y="311" width="11.4" height="34.5" fill="#3c7da6"/>
<rect x="254.9" y="316" width="11.4" height="29.5" fill="#5b83be"/>
<rect x="271.5" y="309.6" width="11.4" height="35.9" fill="#cfaa8f"/>
<rect x="288.1" y="327" width="11.4" height="18.5" fill="#d4665e"/>
<rect x="304.9" y="323.6" width="11.4" height="21.9" fill="#a56b22"/>
<line x1="227.2" y1="310" x2="227.2" y2="306.8" stroke="#6a66a0" stroke-width="1.2"/>
<line x1="224.2" y1="306.8" x2="230.2" y2="306.8" stroke="#6a66a0" stroke-width="1.2"/>
<line x1="243.8" y1="311" x2="243.8" y2="307.8" stroke="#6aa6cc" stroke-width="1.2"/>
<line x1="240.8" y1="307.8" x2="246.8" y2="307.8" stroke="#6aa6cc" stroke-width="1.2"/>
<line x1="260.6" y1="316" x2="260.6" y2="313.4" stroke="#86a6da" stroke-width="1.2"/>
<line x1="257.6" y1="313.4" x2="263.6" y2="313.4" stroke="#86a6da" stroke-width="1.2"/>
<line x1="277.2" y1="309.6" x2="277.2" y2="307.5" stroke="#e4c2aa" stroke-width="1.2"/>
<line x1="274.2" y1="307.5" x2="280.2" y2="307.5" stroke="#e4c2aa" stroke-width="1.2"/>
<line x1="293.8" y1="327" x2="293.8" y2="325" stroke="#f09a92" stroke-width="1.2"/>
<line x1="290.8" y1="325" x2="296.8" y2="325" stroke="#f09a92" stroke-width="1.2"/>
<line x1="310.6" y1="323.6" x2="310.6" y2="315.6" stroke="#e0b585" stroke-width="1.2"/>
<line x1="307.6" y1="315.6" x2="313.6" y2="315.6" stroke="#e0b585" stroke-width="1.2"/>
<circle cx="227.2" cy="294" r="1.4" fill="#000"/>
<circle cx="225" cy="297.2" r="1.4" fill="#000"/>
<circle cx="229.4" cy="297.2" r="1.4" fill="#000"/>
<circle cx="222.6" cy="306.4" r="1.4" fill="#000"/>
<circle cx="227.2" cy="306.4" r="1.4" fill="#000"/>
<circle cx="231.6" cy="306.4" r="1.4" fill="#000"/>
<circle cx="227.2" cy="309.2" r="1.4" fill="#000"/>
<circle cx="222.6" cy="315.4" r="1.4" fill="#000"/>
<circle cx="227.2" cy="315.4" r="1.4" fill="#000"/>
<circle cx="231.6" cy="315.4" r="1.4" fill="#000"/>
<circle cx="227.2" cy="318" r="1.4" fill="#000"/>
<circle cx="227.2" cy="320.4" r="1.4" fill="#000"/>
<circle cx="227.2" cy="322.4" r="1.4" fill="#000"/>
<circle cx="227.2" cy="324.6" r="1.4" fill="#000"/>
<circle cx="243.8" cy="291.2" r="1.4" fill="#000"/>
<circle cx="241.6" cy="300.2" r="1.4" fill="#000"/>
<circle cx="246" cy="300.2" r="1.4" fill="#000"/>
<circle cx="243.8" cy="303.4" r="1.4" fill="#000"/>
<circle cx="241.6" cy="312.2" r="1.4" fill="#000"/>
<circle cx="246" cy="312.2" r="1.4" fill="#000"/>
<circle cx="239.2" cy="315.4" r="1.4" fill="#000"/>
<circle cx="243.8" cy="315.4" r="1.4" fill="#000"/>
<circle cx="248.3" cy="315.4" r="1.4" fill="#000"/>
<circle cx="241.6" cy="318.4" r="1.4" fill="#000"/>
<circle cx="246" cy="318.4" r="1.4" fill="#000"/>
<circle cx="243.8" cy="327.4" r="1.4" fill="#000"/>
<circle cx="260.6" cy="302.8" r="1.4" fill="#000"/>
<circle cx="260.6" cy="305.6" r="1.4" fill="#000"/>
<circle cx="260.6" cy="307.6" r="1.4" fill="#000"/>
<circle cx="256" cy="309.4" r="1.4" fill="#000"/>
<circle cx="260.6" cy="309.6" r="1.4" fill="#000"/>
<circle cx="265.1" cy="309.4" r="1.4" fill="#000"/>
<circle cx="260.6" cy="312.4" r="1.4" fill="#000"/>
<circle cx="258.4" cy="318.4" r="1.4" fill="#000"/>
<circle cx="262.8" cy="318.4" r="1.4" fill="#000"/>
<circle cx="256" cy="321.4" r="1.4" fill="#000"/>
<circle cx="260.6" cy="321.6" r="1.4" fill="#000"/>
<circle cx="265.1" cy="321.4" r="1.4" fill="#000"/>
<circle cx="260.6" cy="324.4" r="1.4" fill="#000"/>
<circle cx="260.6" cy="330.4" r="1.4" fill="#000"/>
<circle cx="277.2" cy="294.2" r="1.4" fill="#000"/>
<circle cx="277.2" cy="303" r="1.4" fill="#000"/>
<circle cx="277.2" cy="305.2" r="1.4" fill="#000"/>
<circle cx="277.2" cy="307.4" r="1.4" fill="#000"/>
<circle cx="272.6" cy="309.2" r="1.4" fill="#000"/>
<circle cx="277.2" cy="309.2" r="1.4" fill="#000"/>
<circle cx="281.6" cy="309.2" r="1.4" fill="#000"/>
<circle cx="275" cy="312.2" r="1.4" fill="#000"/>
<circle cx="279.4" cy="312.2" r="1.4" fill="#000"/>
<circle cx="275" cy="315.4" r="1.4" fill="#000"/>
<circle cx="279.4" cy="315.4" r="1.4" fill="#000"/>
<circle cx="277.2" cy="318.4" r="1.4" fill="#000"/>
<circle cx="277.2" cy="321.6" r="1.4" fill="#000"/>
<circle cx="293.8" cy="315" r="1.4" fill="#000"/>
<circle cx="293.8" cy="318.2" r="1.4" fill="#000"/>
<circle cx="291.4" cy="321.2" r="1.4" fill="#000"/>
<circle cx="296" cy="321.2" r="1.4" fill="#000"/>
<circle cx="291.4" cy="324.4" r="1.4" fill="#000"/>
<circle cx="296" cy="324.4" r="1.4" fill="#000"/>
<circle cx="293.8" cy="327" r="1.4" fill="#000"/>
<circle cx="291.4" cy="330" r="1.4" fill="#000"/>
<circle cx="296" cy="330" r="1.4" fill="#000"/>
<circle cx="291.4" cy="333.6" r="1.4" fill="#000"/>
<circle cx="296" cy="333.6" r="1.4" fill="#000"/>
<circle cx="291.4" cy="336.4" r="1.4" fill="#000"/>
<circle cx="296" cy="336.4" r="1.4" fill="#000"/>
<circle cx="310.6" cy="312" r="1.4" fill="#000"/>
<circle cx="308.4" cy="315.4" r="1.4" fill="#000"/>
<circle cx="312.8" cy="315.4" r="1.4" fill="#000"/>
<circle cx="306" cy="318.2" r="1.4" fill="#000"/>
<circle cx="310.6" cy="318.2" r="1.4" fill="#000"/>
<circle cx="315.2" cy="318.2" r="1.4" fill="#000"/>
<circle cx="310.6" cy="321.6" r="1.4" fill="#000"/>
<circle cx="310.6" cy="324.4" r="1.4" fill="#000"/>
<circle cx="308.4" cy="327.2" r="1.4" fill="#000"/>
<circle cx="312.8" cy="327.2" r="1.4" fill="#000"/>
<circle cx="310.6" cy="333.2" r="1.4" fill="#000"/>
<circle cx="308.4" cy="336.2" r="1.4" fill="#000"/>
<circle cx="312.8" cy="336.2" r="1.4" fill="#000"/>
<line x1="216" y1="255.1" x2="216" y2="346" stroke="#222" stroke-width="1.1"/>
<line x1="215.5" y1="345.5" x2="322" y2="345.5" stroke="#222" stroke-width="1.1"/>
<line x1="213" y1="345.5" x2="216" y2="345.5" stroke="#222" stroke-width="1"/>
<text x="211.8" y="348.64" font-size="7.13" font-weight="bold" text-anchor="end" fill="#111" stroke="#111" stroke-width="0.22" transform="translate(211.8 348.64) scale(0.85 1) translate(-211.8 -348.64)">0</text>
<line x1="213" y1="315.53" x2="216" y2="315.53" stroke="#222" stroke-width="1"/>
<text x="211.8" y="318.67" font-size="7.13" font-weight="bold" text-anchor="end" fill="#111" stroke="#111" stroke-width="0.22" transform="translate(211.8 318.67) scale(0.85 1) translate(-211.8 -318.67)">10</text>
<line x1="213" y1="285.57" x2="216" y2="285.57" stroke="#222" stroke-width="1"/>
<text x="211.8" y="288.7" font-size="7.13" font-weight="bold" text-anchor="end" fill="#111" stroke="#111" stroke-width="0.22" transform="translate(211.8 288.7) scale(0.85 1) translate(-211.8 -288.7)">20</text>
<line x1="213" y1="255.6" x2="216" y2="255.6" stroke="#222" stroke-width="1"/>
<text x="211.8" y="258.74" font-size="7.13" font-weight="bold" text-anchor="end" fill="#111" stroke="#111" stroke-width="0.22" transform="translate(211.8 258.74) scale(0.85 1) translate(-211.8 -258.74)">30</text>
<line x1="227.2" y1="345.5" x2="227.2" y2="348.5" stroke="#222" stroke-width="1.2"/>
<line x1="243.8" y1="345.5" x2="243.8" y2="348.5" stroke="#222" stroke-width="1.2"/>
<line x1="260.6" y1="345.5" x2="260.6" y2="348.5" stroke="#222" stroke-width="1.2"/>
<line x1="277.2" y1="345.5" x2="277.2" y2="348.5" stroke="#222" stroke-width="1.2"/>
<line x1="293.8" y1="345.5" x2="293.8" y2="348.5" stroke="#222" stroke-width="1.2"/>
<line x1="310.6" y1="345.5" x2="310.6" y2="348.5" stroke="#222" stroke-width="1.2"/>
<text x="228.4" y="354.5" font-size="6.05" font-weight="bold" text-anchor="end" fill="#111" stroke="#111" stroke-width="0.22" transform="rotate(-45 228.4 354.5)">Control</text>
<text x="245" y="354.5" font-size="6.05" font-weight="bold" text-anchor="end" fill="#111" stroke="#111" stroke-width="0.22" transform="rotate(-45 245 354.5)">AAV-PTBP1+NgR</text>
<text x="261.8" y="354.5" font-size="6.05" font-weight="bold" text-anchor="end" fill="#111" stroke="#111" stroke-width="0.22" transform="rotate(-45 261.8 354.5)">AAV-PTBP1/SPS</text>
<text x="278.4" y="354.5" font-size="6.05" font-weight="bold" text-anchor="end" fill="#111" stroke="#111" stroke-width="0.22" transform="rotate(-45 278.4 354.5)">AAV-PTBP1+NgR/SPS</text>
<text x="295" y="354.5" font-size="6.05" font-weight="bold" text-anchor="end" fill="#111" stroke="#111" stroke-width="0.22" transform="rotate(-45 295 354.5)">AAV-Empty/SPS</text>
<text x="311.8" y="354.5" font-size="6.05" font-weight="bold" text-anchor="end" fill="#111" stroke="#111" stroke-width="0.22" transform="rotate(-45 311.8 354.5)">SPS</text>
<text x="192.1" y="299.8" font-size="7.3" font-weight="bold" text-anchor="middle" fill="#111" stroke="#111" stroke-width="0.22" transform="rotate(-90 192.1 299.8)">Number of entries</text>
<text x="201.2" y="299.8" font-size="7.3" font-weight="bold" text-anchor="middle" fill="#111" stroke="#111" stroke-width="0.22" transform="rotate(-90 201.2 299.8)">into the open arm</text>
<line x1="227.2" y1="221.8" x2="310.6" y2="221.8" stroke="#444" stroke-width="1"/>
<path d="M266.65 215.35L266.65 218.25M267.91 216.08L265.39 217.53M267.91 217.53L265.39 216.08" stroke="#111" stroke-width="1.15" stroke-linecap="round"/>
<path d="M271.15 215.35L271.15 218.25M272.41 216.08L269.89 217.53M272.41 217.53L269.89 216.08" stroke="#111" stroke-width="1.15" stroke-linecap="round"/>
<line x1="277.2" y1="234.9" x2="310.6" y2="234.9" stroke="#444" stroke-width="1"/>
<path d="M291.65 228.45L291.65 231.35M292.91 229.18L290.39 230.62M292.91 230.62L290.39 229.18" stroke="#111" stroke-width="1.15" stroke-linecap="round"/>
<path d="M296.15 228.45L296.15 231.35M297.41 229.18L294.89 230.62M297.41 230.62L294.89 229.18" stroke="#111" stroke-width="1.15" stroke-linecap="round"/>
<line x1="227.2" y1="248.3" x2="293.8" y2="248.3" stroke="#444" stroke-width="1"/>
<path d="M253.75 241.85L253.75 244.75M255.01 242.58L252.49 244.03M255.01 244.03L252.49 242.58" stroke="#111" stroke-width="1.15" stroke-linecap="round"/>
<path d="M258.25 241.85L258.25 244.75M259.51 242.58L256.99 244.03M259.51 244.03L256.99 242.58" stroke="#111" stroke-width="1.15" stroke-linecap="round"/>
<path d="M262.75 241.85L262.75 244.75M264.01 242.58L261.49 244.03M264.01 244.03L261.49 242.58" stroke="#111" stroke-width="1.15" stroke-linecap="round"/>
<path d="M267.25 241.85L267.25 244.75M268.51 242.58L265.99 244.03M268.51 244.03L265.99 242.58" stroke="#111" stroke-width="1.15" stroke-linecap="round"/>
<line x1="260.6" y1="262.4" x2="293.8" y2="262.4" stroke="#444" stroke-width="1"/>
<path d="M277.2 255.95L277.2 258.85M278.46 256.67L275.94 258.12M278.46 258.12L275.94 256.67" stroke="#111" stroke-width="1.15" stroke-linecap="round"/>
<line x1="277.2" y1="275.1" x2="293.8" y2="275.1" stroke="#444" stroke-width="1"/>
<path d="M278.75 268.65L278.75 271.55M280.01 269.38L277.49 270.83M280.01 270.83L277.49 269.38" stroke="#111" stroke-width="1.15" stroke-linecap="round"/>
<path d="M283.25 268.65L283.25 271.55M284.51 269.38L281.99 270.83M284.51 270.83L281.99 269.38" stroke="#111" stroke-width="1.15" stroke-linecap="round"/>
<path d="M287.75 268.65L287.75 271.55M289.01 269.38L286.49 270.83M289.01 270.83L286.49 269.38" stroke="#111" stroke-width="1.15" stroke-linecap="round"/>
<path d="M292.25 268.65L292.25 271.55M293.51 269.38L290.99 270.83M293.51 270.83L290.99 269.38" stroke="#111" stroke-width="1.15" stroke-linecap="round"/>
<line x1="227.2" y1="286.4" x2="243.8" y2="286.4" stroke="#444" stroke-width="1"/>
<text x="235.5" y="283.3" font-size="6.3" font-weight="normal" text-anchor="middle" fill="#222" stroke="#222" stroke-width="0.18">ns</text>
<line x1="260.6" y1="286.4" x2="277.2" y2="286.4" stroke="#444" stroke-width="1"/>
<text x="268.9" y="283.3" font-size="6.3" font-weight="normal" text-anchor="middle" fill="#222" stroke="#222" stroke-width="0.18">ns</text>
<line x1="293.8" y1="286.4" x2="310.6" y2="286.4" stroke="#444" stroke-width="1"/>
<text x="302.2" y="283.3" font-size="6.3" font-weight="normal" text-anchor="middle" fill="#222" stroke="#222" stroke-width="0.18">ns</text>
<text x="361" y="210" font-size="14.5" font-weight="bold" text-anchor="start" fill="#1a1212" stroke="#1a1212" stroke-width="0.22">g</text>
<rect x="405.3" y="305.4" width="11" height="41.6" fill="#3e3a72"/>
<rect x="421.7" y="303.8" width="11" height="43.2" fill="#3c7da6"/>
<rect x="437.7" y="301.1" width="11" height="45.9" fill="#5b83be"/>
<rect x="454" y="307.5" width="11" height="39.5" fill="#cfaa8f"/>
<rect x="470.4" y="292.4" width="11" height="54.6" fill="#d4665e"/>
<rect x="486.8" y="299.1" width="11" height="47.9" fill="#a56b22"/>
<line x1="410.8" y1="305.4" x2="410.8" y2="303" stroke="#6a66a0" stroke-width="1.2"/>
<line x1="407.8" y1="303" x2="413.8" y2="303" stroke="#6a66a0" stroke-width="1.2"/>
<line x1="427.2" y1="303.8" x2="427.2" y2="301.5" stroke="#6aa6cc" stroke-width="1.2"/>
<line x1="424.2" y1="301.5" x2="430.2" y2="301.5" stroke="#6aa6cc" stroke-width="1.2"/>
<line x1="443.2" y1="301.1" x2="443.2" y2="299" stroke="#86a6da" stroke-width="1.2"/>
<line x1="440.2" y1="299" x2="446.2" y2="299" stroke="#86a6da" stroke-width="1.2"/>
<line x1="459.5" y1="307.5" x2="459.5" y2="305.5" stroke="#e4c2aa" stroke-width="1.2"/>
<line x1="456.5" y1="305.5" x2="462.5" y2="305.5" stroke="#e4c2aa" stroke-width="1.2"/>
<line x1="475.9" y1="292.4" x2="475.9" y2="289" stroke="#f09a92" stroke-width="1.2"/>
<line x1="472.9" y1="289" x2="478.9" y2="289" stroke="#f09a92" stroke-width="1.2"/>
<line x1="492.3" y1="299.1" x2="492.3" y2="297" stroke="#e0b585" stroke-width="1.2"/>
<line x1="489.3" y1="297" x2="495.3" y2="297" stroke="#e0b585" stroke-width="1.2"/>
<circle cx="413" cy="296.7" r="1.4" fill="#000"/>
<circle cx="410.8" cy="298.1" r="1.4" fill="#000"/>
<circle cx="408.6" cy="300" r="1.4" fill="#000"/>
<circle cx="410.8" cy="303.6" r="1.4" fill="#000"/>
<circle cx="409" cy="305.1" r="1.4" fill="#000"/>
<circle cx="412.6" cy="305.1" r="1.4" fill="#000"/>
<circle cx="406.4" cy="310.2" r="1.4" fill="#000"/>
<circle cx="408.6" cy="309.1" r="1.4" fill="#000"/>
<circle cx="410.8" cy="309.1" r="1.4" fill="#000"/>
<circle cx="413" cy="309.1" r="1.4" fill="#000"/>
<circle cx="415.2" cy="310.9" r="1.4" fill="#000"/>
<circle cx="407.1" cy="310.9" r="1.4" fill="#000"/>
<circle cx="427.2" cy="296.1" r="1.4" fill="#000"/>
<circle cx="422.8" cy="299.6" r="1.4" fill="#000"/>
<circle cx="431.6" cy="300.3" r="1.4" fill="#000"/>
<circle cx="427.2" cy="301.4" r="1.4" fill="#000"/>
<circle cx="422.8" cy="302.5" r="1.4" fill="#000"/>
<circle cx="431.6" cy="302.9" r="1.4" fill="#000"/>
<circle cx="422.8" cy="305.8" r="1.4" fill="#000"/>
<circle cx="431.6" cy="305.8" r="1.4" fill="#000"/>
<circle cx="427.2" cy="309.5" r="1.4" fill="#000"/>
<circle cx="422.8" cy="310.2" r="1.4" fill="#000"/>
<circle cx="431.6" cy="310.2" r="1.4" fill="#000"/>
<circle cx="431.6" cy="308" r="1.4" fill="#000"/>
<circle cx="444.1" cy="291.9" r="1.4" fill="#000"/>
<circle cx="442.5" cy="293.4" r="1.4" fill="#000"/>
<circle cx="444.1" cy="295.6" r="1.4" fill="#000"/>
<circle cx="442.5" cy="297" r="1.4" fill="#000"/>
<circle cx="443.2" cy="300" r="1.4" fill="#000"/>
<circle cx="440.6" cy="303.2" r="1.4" fill="#000"/>
<circle cx="443.2" cy="303.6" r="1.4" fill="#000"/>
<circle cx="445.8" cy="304.3" r="1.4" fill="#000"/>
<circle cx="448" cy="302.5" r="1.4" fill="#000"/>
<circle cx="443.2" cy="308.4" r="1.4" fill="#000"/>
<circle cx="438.8" cy="302.8" r="1.4" fill="#000"/>
<circle cx="444.7" cy="306" r="1.4" fill="#000"/>
<circle cx="458.2" cy="301.9" r="1.4" fill="#000"/>
<circle cx="461.1" cy="301.2" r="1.4" fill="#000"/>
<circle cx="461" cy="303.7" r="1.4" fill="#000"/>
<circle cx="455.2" cy="305.2" r="1.4" fill="#000"/>
<circle cx="458" cy="305.9" r="1.4" fill="#000"/>
<circle cx="461" cy="305.9" r="1.4" fill="#000"/>
<circle cx="463.9" cy="307" r="1.4" fill="#000"/>
<circle cx="455.2" cy="308.1" r="1.4" fill="#000"/>
<circle cx="458" cy="309.2" r="1.4" fill="#000"/>
<circle cx="461" cy="308.1" r="1.4" fill="#000"/>
<circle cx="463.9" cy="309.6" r="1.4" fill="#000"/>
<circle cx="455.2" cy="311.4" r="1.4" fill="#000"/>
<circle cx="461" cy="311.4" r="1.4" fill="#000"/>
<circle cx="471.5" cy="284.7" r="1.4" fill="#000"/>
<circle cx="475.9" cy="287.3" r="1.4" fill="#000"/>
<circle cx="480.3" cy="286.2" r="1.4" fill="#000"/>
<circle cx="471.5" cy="291" r="1.4" fill="#000"/>
<circle cx="475.9" cy="291" r="1.4" fill="#000"/>
<circle cx="480.3" cy="291.7" r="1.4" fill="#000"/>
<circle cx="475.9" cy="293.5" r="1.4" fill="#000"/>
<circle cx="473.7" cy="296.4" r="1.4" fill="#000"/>
<circle cx="478.1" cy="296.1" r="1.4" fill="#000"/>
<circle cx="473.7" cy="301.9" r="1.4" fill="#000"/>
<circle cx="478.1" cy="301.8" r="1.4" fill="#000"/>
<circle cx="492.3" cy="287.2" r="1.4" fill="#000"/>
<circle cx="491.3" cy="292" r="1.4" fill="#000"/>
<circle cx="493.3" cy="292.4" r="1.4" fill="#000"/>
<circle cx="489.6" cy="295.7" r="1.4" fill="#000"/>
<circle cx="492.3" cy="295.7" r="1.4" fill="#000"/>
<circle cx="494.9" cy="295.7" r="1.4" fill="#000"/>
<circle cx="487.9" cy="302.8" r="1.4" fill="#000"/>
<circle cx="489.3" cy="304.8" r="1.4" fill="#000"/>
<circle cx="492.3" cy="303.4" r="1.4" fill="#000"/>
<circle cx="493.8" cy="304.8" r="1.4" fill="#000"/>
<circle cx="496.3" cy="304.5" r="1.4" fill="#000"/>
<circle cx="492.3" cy="307.6" r="1.4" fill="#000"/>
<line x1="400" y1="258.7" x2="400" y2="347.5" stroke="#222" stroke-width="1.1"/>
<line x1="399.5" y1="347" x2="503.1" y2="347" stroke="#222" stroke-width="1.1"/>
<line x1="397" y1="347" x2="400" y2="347" stroke="#222" stroke-width="1"/>
<text x="395.8" y="350.14" font-size="7.13" font-weight="bold" text-anchor="end" fill="#111" stroke="#111" stroke-width="0.22" transform="translate(395.8 350.14) scale(0.85 1) translate(-395.8 -350.14)">0</text>
<line x1="397" y1="329.44" x2="400" y2="329.44" stroke="#222" stroke-width="1"/>
<text x="395.8" y="332.58" font-size="7.13" font-weight="bold" text-anchor="end" fill="#111" stroke="#111" stroke-width="0.22" transform="translate(395.8 332.58) scale(0.85 1) translate(-395.8 -332.58)">70</text>
<line x1="397" y1="311.88" x2="400" y2="311.88" stroke="#222" stroke-width="1"/>
<text x="395.8" y="315.02" font-size="7.13" font-weight="bold" text-anchor="end" fill="#111" stroke="#111" stroke-width="0.22" transform="translate(395.8 315.02) scale(0.85 1) translate(-395.8 -315.02)">140</text>
<line x1="397" y1="294.32" x2="400" y2="294.32" stroke="#222" stroke-width="1"/>
<text x="395.8" y="297.46" font-size="7.13" font-weight="bold" text-anchor="end" fill="#111" stroke="#111" stroke-width="0.22" transform="translate(395.8 297.46) scale(0.85 1) translate(-395.8 -297.46)">210</text>
<line x1="397" y1="276.76" x2="400" y2="276.76" stroke="#222" stroke-width="1"/>
<text x="395.8" y="279.9" font-size="7.13" font-weight="bold" text-anchor="end" fill="#111" stroke="#111" stroke-width="0.22" transform="translate(395.8 279.9) scale(0.85 1) translate(-395.8 -279.9)">280</text>
<line x1="397" y1="259.2" x2="400" y2="259.2" stroke="#222" stroke-width="1"/>
<text x="395.8" y="262.34" font-size="7.13" font-weight="bold" text-anchor="end" fill="#111" stroke="#111" stroke-width="0.22" transform="translate(395.8 262.34) scale(0.85 1) translate(-395.8 -262.34)">350</text>
<line x1="410.8" y1="347" x2="410.8" y2="350" stroke="#222" stroke-width="1.2"/>
<line x1="427.2" y1="347" x2="427.2" y2="350" stroke="#222" stroke-width="1.2"/>
<line x1="443.2" y1="347" x2="443.2" y2="350" stroke="#222" stroke-width="1.2"/>
<line x1="459.5" y1="347" x2="459.5" y2="350" stroke="#222" stroke-width="1.2"/>
<line x1="475.9" y1="347" x2="475.9" y2="350" stroke="#222" stroke-width="1.2"/>
<line x1="492.3" y1="347" x2="492.3" y2="350" stroke="#222" stroke-width="1.2"/>
<text x="412" y="356" font-size="6.05" font-weight="bold" text-anchor="end" fill="#111" stroke="#111" stroke-width="0.22" transform="rotate(-45 412 356)">Control</text>
<text x="428.4" y="356" font-size="6.05" font-weight="bold" text-anchor="end" fill="#111" stroke="#111" stroke-width="0.22" transform="rotate(-45 428.4 356)">AAV-PTBP1+NgR</text>
<text x="444.4" y="356" font-size="6.05" font-weight="bold" text-anchor="end" fill="#111" stroke="#111" stroke-width="0.22" transform="rotate(-45 444.4 356)">AAV-PTBP1/SPS</text>
<text x="460.7" y="356" font-size="6.05" font-weight="bold" text-anchor="end" fill="#111" stroke="#111" stroke-width="0.22" transform="rotate(-45 460.7 356)">AAV-PTBP1+NgR/SPS</text>
<text x="477.1" y="356" font-size="6.05" font-weight="bold" text-anchor="end" fill="#111" stroke="#111" stroke-width="0.22" transform="rotate(-45 477.1 356)">AAV-Empty/SPS</text>
<text x="493.5" y="356" font-size="6.05" font-weight="bold" text-anchor="end" fill="#111" stroke="#111" stroke-width="0.22" transform="rotate(-45 493.5 356)">SPS</text>
<text x="373.4" y="301.6" font-size="7.1" font-weight="bold" text-anchor="middle" fill="#111" stroke="#111" stroke-width="0.22" transform="rotate(-90 373.4 301.6)">Time spent</text>
<text x="381.7" y="301.6" font-size="7.1" font-weight="bold" text-anchor="middle" fill="#111" stroke="#111" stroke-width="0.22" transform="rotate(-90 381.7 301.6)">in the closed arm(s)</text>
<line x1="410.8" y1="209.8" x2="492.3" y2="209.8" stroke="#444" stroke-width="1"/>
<path d="M451.55 203.35L451.55 206.25M452.81 204.08L450.29 205.53M452.81 205.53L450.29 204.08" stroke="#111" stroke-width="1.15" stroke-linecap="round"/>
<line x1="459.5" y1="223.4" x2="492.3" y2="223.4" stroke="#444" stroke-width="1"/>
<path d="M473.65 216.95L473.65 219.85M474.91 217.68L472.39 219.12M474.91 219.12L472.39 217.68" stroke="#111" stroke-width="1.15" stroke-linecap="round"/>
<path d="M478.15 216.95L478.15 219.85M479.41 217.68L476.89 219.12M479.41 219.12L476.89 217.68" stroke="#111" stroke-width="1.15" stroke-linecap="round"/>
<line x1="410.8" y1="237.4" x2="475.9" y2="237.4" stroke="#444" stroke-width="1"/>
<path d="M436.6 230.95L436.6 233.85M437.86 231.68L435.34 233.12M437.86 233.12L435.34 231.68" stroke="#111" stroke-width="1.15" stroke-linecap="round"/>
<path d="M441.1 230.95L441.1 233.85M442.36 231.68L439.84 233.12M442.36 233.12L439.84 231.68" stroke="#111" stroke-width="1.15" stroke-linecap="round"/>
<path d="M445.6 230.95L445.6 233.85M446.86 231.68L444.34 233.12M446.86 233.12L444.34 231.68" stroke="#111" stroke-width="1.15" stroke-linecap="round"/>
<path d="M450.1 230.95L450.1 233.85M451.36 231.68L448.84 233.12M451.36 233.12L448.84 231.68" stroke="#111" stroke-width="1.15" stroke-linecap="round"/>
<line x1="443.2" y1="252.1" x2="475.9" y2="252.1" stroke="#444" stroke-width="1"/>
<path d="M457.3 245.65L457.3 248.55M458.56 246.38L456.04 247.82M458.56 247.82L456.04 246.38" stroke="#111" stroke-width="1.15" stroke-linecap="round"/>
<path d="M461.8 245.65L461.8 248.55M463.06 246.38L460.54 247.82M463.06 247.82L460.54 246.38" stroke="#111" stroke-width="1.15" stroke-linecap="round"/>
<line x1="459.5" y1="265.4" x2="475.9" y2="265.4" stroke="#444" stroke-width="1"/>
<path d="M460.95 258.95L460.95 261.85M462.21 259.67L459.69 261.12M462.21 261.12L459.69 259.67" stroke="#111" stroke-width="1.15" stroke-linecap="round"/>
<path d="M465.45 258.95L465.45 261.85M466.71 259.67L464.19 261.12M466.71 261.12L464.19 259.67" stroke="#111" stroke-width="1.15" stroke-linecap="round"/>
<path d="M469.95 258.95L469.95 261.85M471.21 259.67L468.69 261.12M471.21 261.12L468.69 259.67" stroke="#111" stroke-width="1.15" stroke-linecap="round"/>
<path d="M474.45 258.95L474.45 261.85M475.71 259.67L473.19 261.12M475.71 261.12L473.19 259.67" stroke="#111" stroke-width="1.15" stroke-linecap="round"/>
<line x1="410.8" y1="277.8" x2="427.2" y2="277.8" stroke="#444" stroke-width="1"/>
<text x="419" y="274.7" font-size="6.3" font-weight="normal" text-anchor="middle" fill="#222" stroke="#222" stroke-width="0.18">ns</text>
<line x1="443.2" y1="277.8" x2="459.5" y2="277.8" stroke="#444" stroke-width="1"/>
<path d="M451.35 271.35L451.35 274.25M452.61 272.07L450.09 273.53M452.61 273.53L450.09 272.07" stroke="#111" stroke-width="1.15" stroke-linecap="round"/>
<line x1="475.9" y1="277.8" x2="492.3" y2="277.8" stroke="#444" stroke-width="1"/>
<text x="484.1" y="274.7" font-size="6.3" font-weight="normal" text-anchor="middle" fill="#222" stroke="#222" stroke-width="0.18">ns</text>
<text x="545" y="212" font-size="14.5" font-weight="bold" text-anchor="start" fill="#1a1212" stroke="#1a1212" stroke-width="0.22">h</text>
<rect x="576.95" y="293" width="10.9" height="53.5" fill="#3e3a72"/>
<rect x="593.35" y="291.8" width="10.9" height="54.7" fill="#3c7da6"/>
<rect x="609.75" y="289.3" width="10.9" height="57.2" fill="#5b83be"/>
<rect x="626.35" y="292" width="10.9" height="54.5" fill="#cfaa8f"/>
<rect x="642.95" y="284.2" width="10.9" height="62.3" fill="#d4665e"/>
<rect x="659.35" y="285.2" width="10.9" height="61.3" fill="#a56b22"/>
<line x1="582.4" y1="293" x2="582.4" y2="291.5" stroke="#6a66a0" stroke-width="1.2"/>
<line x1="579.4" y1="291.5" x2="585.4" y2="291.5" stroke="#6a66a0" stroke-width="1.2"/>
<line x1="598.8" y1="291.8" x2="598.8" y2="290.5" stroke="#6aa6cc" stroke-width="1.2"/>
<line x1="595.8" y1="290.5" x2="601.8" y2="290.5" stroke="#6aa6cc" stroke-width="1.2"/>
<line x1="615.2" y1="289.3" x2="615.2" y2="287.8" stroke="#86a6da" stroke-width="1.2"/>
<line x1="612.2" y1="287.8" x2="618.2" y2="287.8" stroke="#86a6da" stroke-width="1.2"/>
<line x1="631.8" y1="292" x2="631.8" y2="290.5" stroke="#e4c2aa" stroke-width="1.2"/>
<line x1="628.8" y1="290.5" x2="634.8" y2="290.5" stroke="#e4c2aa" stroke-width="1.2"/>
<line x1="648.4" y1="284.2" x2="648.4" y2="283" stroke="#f09a92" stroke-width="1.2"/>
<line x1="645.4" y1="283" x2="651.4" y2="283" stroke="#f09a92" stroke-width="1.2"/>
<line x1="664.8" y1="285.2" x2="664.8" y2="284.2" stroke="#e0b585" stroke-width="1.2"/>
<line x1="661.8" y1="284.2" x2="667.8" y2="284.2" stroke="#e0b585" stroke-width="1.2"/>
<circle cx="578.5" cy="289.5" r="1.4" fill="#000"/>
<circle cx="579.8" cy="289.1" r="1.4" fill="#000"/>
<circle cx="581.3" cy="287.7" r="1.4" fill="#000"/>
<circle cx="582.8" cy="289.5" r="1.4" fill="#000"/>
<circle cx="584.6" cy="289.9" r="1.4" fill="#000"/>
<circle cx="586.8" cy="289.5" r="1.4" fill="#000"/>
<circle cx="582.8" cy="291" r="1.4" fill="#000"/>
<circle cx="581.3" cy="297.2" r="1.4" fill="#000"/>
<circle cx="585" cy="295.3" r="1.4" fill="#000"/>
<circle cx="585" cy="297.5" r="1.4" fill="#000"/>
<circle cx="582.4" cy="304.8" r="1.4" fill="#000"/>
<circle cx="578" cy="290.5" r="1.4" fill="#000"/>
<circle cx="594.4" cy="289.5" r="1.4" fill="#000"/>
<circle cx="596.6" cy="287.7" r="1.4" fill="#000"/>
<circle cx="599.2" cy="287.3" r="1.4" fill="#000"/>
<circle cx="601.4" cy="287.7" r="1.4" fill="#000"/>
<circle cx="603.2" cy="289.1" r="1.4" fill="#000"/>
<circle cx="596.6" cy="292.4" r="1.4" fill="#000"/>
<circle cx="598.8" cy="291" r="1.4" fill="#000"/>
<circle cx="601" cy="291" r="1.4" fill="#000"/>
<circle cx="596.6" cy="297.2" r="1.4" fill="#000"/>
<circle cx="598.8" cy="295.7" r="1.4" fill="#000"/>
<circle cx="601" cy="296.8" r="1.4" fill="#000"/>
<circle cx="603.2" cy="293.5" r="1.4" fill="#000"/>
<circle cx="615.2" cy="281.1" r="1.4" fill="#000"/>
<circle cx="611.2" cy="285.8" r="1.4" fill="#000"/>
<circle cx="613.7" cy="285.8" r="1.4" fill="#000"/>
<circle cx="617" cy="286.9" r="1.4" fill="#000"/>
<circle cx="619.6" cy="284.7" r="1.4" fill="#000"/>
<circle cx="613.7" cy="288" r="1.4" fill="#000"/>
<circle cx="619.9" cy="288" r="1.4" fill="#000"/>
<circle cx="613.7" cy="290.2" r="1.4" fill="#000"/>
<circle cx="617" cy="290.2" r="1.4" fill="#000"/>
<circle cx="610.8" cy="292.8" r="1.4" fill="#000"/>
<circle cx="619.6" cy="293.7" r="1.4" fill="#000"/>
<circle cx="610.8" cy="295.7" r="1.4" fill="#000"/>
<circle cx="616.7" cy="295.7" r="1.4" fill="#000"/>
<circle cx="631.8" cy="284.4" r="1.4" fill="#000"/>
<circle cx="633.5" cy="285.8" r="1.4" fill="#000"/>
<circle cx="627.2" cy="288" r="1.4" fill="#000"/>
<circle cx="630" cy="288.8" r="1.4" fill="#000"/>
<circle cx="633.5" cy="288.2" r="1.4" fill="#000"/>
<circle cx="636" cy="288.8" r="1.4" fill="#000"/>
<circle cx="632" cy="290" r="1.4" fill="#000"/>
<circle cx="629.2" cy="293.2" r="1.4" fill="#000"/>
<circle cx="632" cy="293.6" r="1.4" fill="#000"/>
<circle cx="634.8" cy="293.2" r="1.4" fill="#000"/>
<circle cx="636" cy="292.4" r="1.4" fill="#000"/>
<circle cx="631.8" cy="302" r="1.4" fill="#000"/>
<circle cx="631.8" cy="306.8" r="1.4" fill="#000"/>
<circle cx="645.6" cy="277.6" r="1.4" fill="#000"/>
<circle cx="647.6" cy="276.6" r="1.4" fill="#000"/>
<circle cx="650.8" cy="278" r="1.4" fill="#000"/>
<circle cx="644" cy="282.4" r="1.4" fill="#000"/>
<circle cx="647.2" cy="283.6" r="1.4" fill="#000"/>
<circle cx="650" cy="281.2" r="1.4" fill="#000"/>
<circle cx="652.4" cy="283.2" r="1.4" fill="#000"/>
<circle cx="646.8" cy="291.2" r="1.4" fill="#000"/>
<circle cx="648.8" cy="290" r="1.4" fill="#000"/>
<circle cx="647.6" cy="280" r="1.4" fill="#000"/>
<circle cx="650.9" cy="284" r="1.4" fill="#000"/>
<circle cx="664.8" cy="278.6" r="1.4" fill="#000"/>
<circle cx="661.6" cy="283.2" r="1.4" fill="#000"/>
<circle cx="664.8" cy="284.4" r="1.4" fill="#000"/>
<circle cx="667.6" cy="283.2" r="1.4" fill="#000"/>
<circle cx="669.4" cy="281.8" r="1.4" fill="#000"/>
<circle cx="660.4" cy="288.4" r="1.4" fill="#000"/>
<circle cx="663.2" cy="287.8" r="1.4" fill="#000"/>
<circle cx="666.4" cy="287.8" r="1.4" fill="#000"/>
<circle cx="669.4" cy="288.6" r="1.4" fill="#000"/>
<circle cx="664.8" cy="286.4" r="1.4" fill="#000"/>
<circle cx="668.8" cy="284.8" r="1.4" fill="#000"/>
<line x1="571.5" y1="256.2" x2="571.5" y2="347" stroke="#222" stroke-width="1.1"/>
<line x1="571" y1="346.5" x2="675.8" y2="346.5" stroke="#222" stroke-width="1.1"/>
<line x1="568.5" y1="346.5" x2="571.5" y2="346.5" stroke="#222" stroke-width="1"/>
<text x="567.3" y="349.64" font-size="7.13" font-weight="bold" text-anchor="end" fill="#111" stroke="#111" stroke-width="0.22" transform="translate(567.3 349.64) scale(0.85 1) translate(-567.3 -349.64)">0.0</text>
<line x1="568.5" y1="324.05" x2="571.5" y2="324.05" stroke="#222" stroke-width="1"/>
<text x="567.3" y="327.19" font-size="7.13" font-weight="bold" text-anchor="end" fill="#111" stroke="#111" stroke-width="0.22" transform="translate(567.3 327.19) scale(0.85 1) translate(-567.3 -327.19)">0.3</text>
<line x1="568.5" y1="301.6" x2="571.5" y2="301.6" stroke="#222" stroke-width="1"/>
<text x="567.3" y="304.74" font-size="7.13" font-weight="bold" text-anchor="end" fill="#111" stroke="#111" stroke-width="0.22" transform="translate(567.3 304.74) scale(0.85 1) translate(-567.3 -304.74)">0.6</text>
<line x1="568.5" y1="279.15" x2="571.5" y2="279.15" stroke="#222" stroke-width="1"/>
<text x="567.3" y="282.29" font-size="7.13" font-weight="bold" text-anchor="end" fill="#111" stroke="#111" stroke-width="0.22" transform="translate(567.3 282.29) scale(0.85 1) translate(-567.3 -282.29)">0.9</text>
<line x1="568.5" y1="256.7" x2="571.5" y2="256.7" stroke="#222" stroke-width="1"/>
<text x="567.3" y="259.84" font-size="7.13" font-weight="bold" text-anchor="end" fill="#111" stroke="#111" stroke-width="0.22" transform="translate(567.3 259.84) scale(0.85 1) translate(-567.3 -259.84)">1.2</text>
<line x1="582.4" y1="346.5" x2="582.4" y2="349.5" stroke="#222" stroke-width="1.2"/>
<line x1="598.8" y1="346.5" x2="598.8" y2="349.5" stroke="#222" stroke-width="1.2"/>
<line x1="615.2" y1="346.5" x2="615.2" y2="349.5" stroke="#222" stroke-width="1.2"/>
<line x1="631.8" y1="346.5" x2="631.8" y2="349.5" stroke="#222" stroke-width="1.2"/>
<line x1="648.4" y1="346.5" x2="648.4" y2="349.5" stroke="#222" stroke-width="1.2"/>
<line x1="664.8" y1="346.5" x2="664.8" y2="349.5" stroke="#222" stroke-width="1.2"/>
<text x="583.6" y="355.5" font-size="6.05" font-weight="bold" text-anchor="end" fill="#111" stroke="#111" stroke-width="0.22" transform="rotate(-45 583.6 355.5)">Control</text>
<text x="600" y="355.5" font-size="6.05" font-weight="bold" text-anchor="end" fill="#111" stroke="#111" stroke-width="0.22" transform="rotate(-45 600 355.5)">AAV-PTBP1+NgR</text>
<text x="616.4" y="355.5" font-size="6.05" font-weight="bold" text-anchor="end" fill="#111" stroke="#111" stroke-width="0.22" transform="rotate(-45 616.4 355.5)">AAV-PTBP1/SPS</text>
<text x="633" y="355.5" font-size="6.05" font-weight="bold" text-anchor="end" fill="#111" stroke="#111" stroke-width="0.22" transform="rotate(-45 633 355.5)">AAV-PTBP1+NgR/SPS</text>
<text x="649.6" y="355.5" font-size="6.05" font-weight="bold" text-anchor="end" fill="#111" stroke="#111" stroke-width="0.22" transform="rotate(-45 649.6 355.5)">AAV-Empty/SPS</text>
<text x="666" y="355.5" font-size="6.05" font-weight="bold" text-anchor="end" fill="#111" stroke="#111" stroke-width="0.22" transform="rotate(-45 666 355.5)">SPS</text>
<text x="554.5" y="301.6" font-size="7.3" font-weight="bold" text-anchor="middle" fill="#111" stroke="#111" stroke-width="0.22" transform="rotate(-90 554.5 301.6)">Anxiety index</text>
<line x1="582.4" y1="208.2" x2="664.8" y2="208.2" stroke="#444" stroke-width="1"/>
<path d="M619.1 201.75L619.1 204.65M620.36 202.47L617.84 203.92M620.36 203.92L617.84 202.47" stroke="#111" stroke-width="1.15" stroke-linecap="round"/>
<path d="M623.6 201.75L623.6 204.65M624.86 202.47L622.34 203.92M624.86 203.92L622.34 202.47" stroke="#111" stroke-width="1.15" stroke-linecap="round"/>
<path d="M628.1 201.75L628.1 204.65M629.36 202.47L626.84 203.92M629.36 203.92L626.84 202.47" stroke="#111" stroke-width="1.15" stroke-linecap="round"/>
<line x1="631.8" y1="222.2" x2="664.8" y2="222.2" stroke="#444" stroke-width="1"/>
<path d="M646.05 215.75L646.05 218.65M647.31 216.47L644.79 217.92M647.31 217.92L644.79 216.47" stroke="#111" stroke-width="1.15" stroke-linecap="round"/>
<path d="M650.55 215.75L650.55 218.65M651.81 216.47L649.29 217.92M651.81 217.92L649.29 216.47" stroke="#111" stroke-width="1.15" stroke-linecap="round"/>
<line x1="582.4" y1="235.7" x2="648.4" y2="235.7" stroke="#444" stroke-width="1"/>
<path d="M608.65 229.25L608.65 232.15M609.91 229.97L607.39 231.42M609.91 231.42L607.39 229.97" stroke="#111" stroke-width="1.15" stroke-linecap="round"/>
<path d="M613.15 229.25L613.15 232.15M614.41 229.97L611.89 231.42M614.41 231.42L611.89 229.97" stroke="#111" stroke-width="1.15" stroke-linecap="round"/>
<path d="M617.65 229.25L617.65 232.15M618.91 229.97L616.39 231.42M618.91 231.42L616.39 229.97" stroke="#111" stroke-width="1.15" stroke-linecap="round"/>
<path d="M622.15 229.25L622.15 232.15M623.41 229.97L620.89 231.42M623.41 231.42L620.89 229.97" stroke="#111" stroke-width="1.15" stroke-linecap="round"/>
<line x1="615.2" y1="248.4" x2="648.4" y2="248.4" stroke="#444" stroke-width="1"/>
<path d="M629.55 241.95L629.55 244.85M630.81 242.68L628.29 244.12M630.81 244.12L628.29 242.68" stroke="#111" stroke-width="1.15" stroke-linecap="round"/>
<path d="M634.05 241.95L634.05 244.85M635.31 242.68L632.79 244.12M635.31 244.12L632.79 242.68" stroke="#111" stroke-width="1.15" stroke-linecap="round"/>
<line x1="631.8" y1="261.4" x2="648.4" y2="261.4" stroke="#444" stroke-width="1"/>
<path d="M633.35 254.95L633.35 257.85M634.61 255.67L632.09 257.12M634.61 257.12L632.09 255.67" stroke="#111" stroke-width="1.15" stroke-linecap="round"/>
<path d="M637.85 254.95L637.85 257.85M639.11 255.67L636.59 257.12M639.11 257.12L636.59 255.67" stroke="#111" stroke-width="1.15" stroke-linecap="round"/>
<path d="M642.35 254.95L642.35 257.85M643.61 255.67L641.09 257.12M643.61 257.12L641.09 255.67" stroke="#111" stroke-width="1.15" stroke-linecap="round"/>
<path d="M646.85 254.95L646.85 257.85M648.11 255.67L645.59 257.12M648.11 257.12L645.59 255.67" stroke="#111" stroke-width="1.15" stroke-linecap="round"/>
<line x1="582.4" y1="272.4" x2="598.8" y2="272.4" stroke="#444" stroke-width="1"/>
<text x="590.6" y="269.3" font-size="6.3" font-weight="normal" text-anchor="middle" fill="#222" stroke="#222" stroke-width="0.18">ns</text>
<line x1="615.2" y1="272.4" x2="631.8" y2="272.4" stroke="#444" stroke-width="1"/>
<text x="623.5" y="269.3" font-size="6.3" font-weight="normal" text-anchor="middle" fill="#222" stroke="#222" stroke-width="0.18">ns</text>
<line x1="648.4" y1="272.4" x2="664.8" y2="272.4" stroke="#444" stroke-width="1"/>
<text x="656.6" y="269.3" font-size="6.3" font-weight="normal" text-anchor="middle" fill="#222" stroke="#222" stroke-width="0.18">ns</text>
<text x="4.4" y="421.8" font-size="14.5" font-weight="bold" text-anchor="start" fill="#1a1212" stroke="#1a1212" stroke-width="0.22">i</text>
<rect x="52.9" y="537.6" width="10.6" height="23.9" fill="#3e3a72"/>
<rect x="68.8" y="529.2" width="10.6" height="32.3" fill="#3c7da6"/>
<rect x="84.1" y="539.1" width="10.6" height="22.4" fill="#5b83be"/>
<rect x="100.3" y="535.1" width="10.6" height="26.4" fill="#cfaa8f"/>
<rect x="116.5" y="545.7" width="10.6" height="15.8" fill="#d4665e"/>
<rect x="132.6" y="542.4" width="10.6" height="19.1" fill="#a56b22"/>
<line x1="58.2" y1="537.6" x2="58.2" y2="536" stroke="#6a66a0" stroke-width="1.2"/>
<line x1="55.2" y1="536" x2="61.2" y2="536" stroke="#6a66a0" stroke-width="1.2"/>
<line x1="74.1" y1="529.2" x2="74.1" y2="527.5" stroke="#6aa6cc" stroke-width="1.2"/>
<line x1="71.1" y1="527.5" x2="77.1" y2="527.5" stroke="#6aa6cc" stroke-width="1.2"/>
<line x1="89.4" y1="539.1" x2="89.4" y2="538" stroke="#86a6da" stroke-width="1.2"/>
<line x1="86.4" y1="538" x2="92.4" y2="538" stroke="#86a6da" stroke-width="1.2"/>
<line x1="105.6" y1="535.1" x2="105.6" y2="532.5" stroke="#e4c2aa" stroke-width="1.2"/>
<line x1="102.6" y1="532.5" x2="108.6" y2="532.5" stroke="#e4c2aa" stroke-width="1.2"/>
<line x1="121.8" y1="545.7" x2="121.8" y2="544.5" stroke="#f09a92" stroke-width="1.2"/>
<line x1="118.8" y1="544.5" x2="124.8" y2="544.5" stroke="#f09a92" stroke-width="1.2"/>
<line x1="137.9" y1="542.4" x2="137.9" y2="541.5" stroke="#e0b585" stroke-width="1.2"/>
<line x1="134.9" y1="541.5" x2="140.9" y2="541.5" stroke="#e0b585" stroke-width="1.2"/>
<circle cx="58.2" cy="529.6" r="1.4" fill="#000"/>
<circle cx="55.9" cy="532.9" r="1.4" fill="#000"/>
<circle cx="57.3" cy="534.7" r="1.4" fill="#000"/>
<circle cx="60.2" cy="536.2" r="1.4" fill="#000"/>
<circle cx="62.4" cy="536.2" r="1.4" fill="#000"/>
<circle cx="53.7" cy="538" r="1.4" fill="#000"/>
<circle cx="55.9" cy="538.2" r="1.4" fill="#000"/>
<circle cx="58.2" cy="537.6" r="1.4" fill="#000"/>
<circle cx="55.9" cy="540.9" r="1.4" fill="#000"/>
<circle cx="58.2" cy="542.4" r="1.4" fill="#000"/>
<circle cx="60.2" cy="542.4" r="1.4" fill="#000"/>
<circle cx="55.9" cy="544.2" r="1.4" fill="#000"/>
<circle cx="75.2" cy="519.5" r="1.4" fill="#000"/>
<circle cx="72.6" cy="521.6" r="1.4" fill="#000"/>
<circle cx="70.8" cy="524.1" r="1.4" fill="#000"/>
<circle cx="73.7" cy="524.5" r="1.4" fill="#000"/>
<circle cx="76.6" cy="524.5" r="1.4" fill="#000"/>
<circle cx="69.4" cy="528.9" r="1.4" fill="#000"/>
<circle cx="71.9" cy="530" r="1.4" fill="#000"/>
<circle cx="75.2" cy="530" r="1.4" fill="#000"/>
<circle cx="72.6" cy="534.3" r="1.4" fill="#000"/>
<circle cx="69.7" cy="537.3" r="1.4" fill="#000"/>
<circle cx="75.2" cy="536.9" r="1.4" fill="#000"/>
<circle cx="78.1" cy="536.2" r="1.4" fill="#000"/>
<circle cx="88.3" cy="531.4" r="1.4" fill="#000"/>
<circle cx="90.5" cy="531.4" r="1.4" fill="#000"/>
<circle cx="87.2" cy="537.6" r="1.4" fill="#000"/>
<circle cx="85.8" cy="539.5" r="1.4" fill="#000"/>
<circle cx="88.3" cy="539.8" r="1.4" fill="#000"/>
<circle cx="90.9" cy="539.1" r="1.4" fill="#000"/>
<circle cx="93" cy="539.8" r="1.4" fill="#000"/>
<circle cx="94.5" cy="541.3" r="1.4" fill="#000"/>
<circle cx="85.8" cy="542" r="1.4" fill="#000"/>
<circle cx="88.3" cy="542" r="1.4" fill="#000"/>
<circle cx="90.9" cy="542" r="1.4" fill="#000"/>
<circle cx="92.3" cy="542.7" r="1.4" fill="#000"/>
<circle cx="101.4" cy="521.6" r="1.4" fill="#000"/>
<circle cx="103.9" cy="523.8" r="1.4" fill="#000"/>
<circle cx="106.5" cy="523.4" r="1.4" fill="#000"/>
<circle cx="109.8" cy="523" r="1.4" fill="#000"/>
<circle cx="101.4" cy="538" r="1.4" fill="#000"/>
<circle cx="103.9" cy="537.3" r="1.4" fill="#000"/>
<circle cx="106.5" cy="537.3" r="1.4" fill="#000"/>
<circle cx="109.8" cy="537.3" r="1.4" fill="#000"/>
<circle cx="102.8" cy="542.4" r="1.4" fill="#000"/>
<circle cx="105.7" cy="543.5" r="1.4" fill="#000"/>
<circle cx="108.3" cy="543.5" r="1.4" fill="#000"/>
<circle cx="105.4" cy="546.4" r="1.4" fill="#000"/>
<circle cx="119.5" cy="540.5" r="1.4" fill="#000"/>
<circle cx="125.7" cy="540.2" r="1.4" fill="#000"/>
<circle cx="123.1" cy="542.4" r="1.4" fill="#000"/>
<circle cx="117.2" cy="544.9" r="1.4" fill="#000"/>
<circle cx="120.5" cy="544.9" r="1.4" fill="#000"/>
<circle cx="126" cy="544.9" r="1.4" fill="#000"/>
<circle cx="118.9" cy="547.1" r="1.4" fill="#000"/>
<circle cx="122.2" cy="547.1" r="1.4" fill="#000"/>
<circle cx="121.1" cy="549.3" r="1.4" fill="#000"/>
<circle cx="120.3" cy="551.5" r="1.4" fill="#000"/>
<circle cx="122.9" cy="550" r="1.4" fill="#000"/>
<circle cx="136.4" cy="539.1" r="1.4" fill="#000"/>
<circle cx="139" cy="539.1" r="1.4" fill="#000"/>
<circle cx="135.7" cy="542.7" r="1.4" fill="#000"/>
<circle cx="137.9" cy="543.8" r="1.4" fill="#000"/>
<circle cx="133.5" cy="546.4" r="1.4" fill="#000"/>
<circle cx="136.4" cy="546" r="1.4" fill="#000"/>
<circle cx="139.4" cy="545.7" r="1.4" fill="#000"/>
<circle cx="141.5" cy="546" r="1.4" fill="#000"/>
<circle cx="133.5" cy="548.9" r="1.4" fill="#000"/>
<circle cx="136.4" cy="548.6" r="1.4" fill="#000"/>
<circle cx="141.5" cy="548.6" r="1.4" fill="#000"/>
<circle cx="135.7" cy="552.2" r="1.4" fill="#000"/>
<circle cx="138.6" cy="550.8" r="1.4" fill="#000"/>
<line x1="47.5" y1="477" x2="47.5" y2="562" stroke="#222" stroke-width="1.1"/>
<line x1="47" y1="561.5" x2="148.8" y2="561.5" stroke="#222" stroke-width="1.1"/>
<line x1="44.5" y1="561.5" x2="47.5" y2="561.5" stroke="#222" stroke-width="1"/>
<text x="43.3" y="564.84" font-size="7.59" font-weight="bold" text-anchor="end" fill="#111" stroke="#111" stroke-width="0.22" transform="translate(43.3 564.84) scale(0.85 1) translate(-43.3 -564.84)">0</text>
<line x1="44.5" y1="533.5" x2="47.5" y2="533.5" stroke="#222" stroke-width="1"/>
<text x="43.3" y="536.84" font-size="7.59" font-weight="bold" text-anchor="end" fill="#111" stroke="#111" stroke-width="0.22" transform="translate(43.3 536.84) scale(0.85 1) translate(-43.3 -536.84)">20</text>
<line x1="44.5" y1="505.5" x2="47.5" y2="505.5" stroke="#222" stroke-width="1"/>
<text x="43.3" y="508.84" font-size="7.59" font-weight="bold" text-anchor="end" fill="#111" stroke="#111" stroke-width="0.22" transform="translate(43.3 508.84) scale(0.85 1) translate(-43.3 -508.84)">40</text>
<line x1="44.5" y1="477.5" x2="47.5" y2="477.5" stroke="#222" stroke-width="1"/>
<text x="43.3" y="480.84" font-size="7.59" font-weight="bold" text-anchor="end" fill="#111" stroke="#111" stroke-width="0.22" transform="translate(43.3 480.84) scale(0.85 1) translate(-43.3 -480.84)">60</text>
<line x1="58.2" y1="561.5" x2="58.2" y2="564.5" stroke="#222" stroke-width="1.2"/>
<line x1="74.1" y1="561.5" x2="74.1" y2="564.5" stroke="#222" stroke-width="1.2"/>
<line x1="89.4" y1="561.5" x2="89.4" y2="564.5" stroke="#222" stroke-width="1.2"/>
<line x1="105.6" y1="561.5" x2="105.6" y2="564.5" stroke="#222" stroke-width="1.2"/>
<line x1="121.8" y1="561.5" x2="121.8" y2="564.5" stroke="#222" stroke-width="1.2"/>
<line x1="137.9" y1="561.5" x2="137.9" y2="564.5" stroke="#222" stroke-width="1.2"/>
<text x="60.9" y="571.9" font-size="7.4" font-weight="bold" text-anchor="end" fill="#111" stroke="#111" stroke-width="0.22" transform="rotate(-45 60.9 571.9)">Control</text>
<text x="76.8" y="571.9" font-size="7.4" font-weight="bold" text-anchor="end" fill="#111" stroke="#111" stroke-width="0.22" transform="rotate(-45 76.8 571.9)">AAV-PTBP1+NgR</text>
<text x="92.1" y="571.9" font-size="7.4" font-weight="bold" text-anchor="end" fill="#111" stroke="#111" stroke-width="0.22" transform="rotate(-45 92.1 571.9)">AAV-PTBP1/SPS</text>
<text x="108.3" y="571.9" font-size="7.4" font-weight="bold" text-anchor="end" fill="#111" stroke="#111" stroke-width="0.22" transform="rotate(-45 108.3 571.9)">AAV-PTBP1+NgR/SPS</text>
<text x="124.5" y="571.9" font-size="7.4" font-weight="bold" text-anchor="end" fill="#111" stroke="#111" stroke-width="0.22" transform="rotate(-45 124.5 571.9)">AAV-Empty/SPS</text>
<text x="140.6" y="571.9" font-size="7.4" font-weight="bold" text-anchor="end" fill="#111" stroke="#111" stroke-width="0.22" transform="rotate(-45 140.6 571.9)">SPS</text>
<text x="21.4" y="519.5" font-size="8.2" font-weight="bold" text-anchor="middle" fill="#111" stroke="#111" stroke-width="0.22" transform="rotate(-90 21.4 519.5)">Time spent in the target</text>
<text x="31" y="519.5" font-size="8.2" font-weight="bold" text-anchor="middle" fill="#111" stroke="#111" stroke-width="0.22" transform="rotate(-90 31 519.5)">quadrant(s)</text>
<line x1="58.2" y1="445.2" x2="137.9" y2="445.2" stroke="#444" stroke-width="1"/>
<path d="M95.8 438.75L95.8 441.65M97.06 439.47L94.54 440.93M97.06 440.93L94.54 439.47" stroke="#111" stroke-width="1.15" stroke-linecap="round"/>
<path d="M100.3 438.75L100.3 441.65M101.56 439.47L99.04 440.93M101.56 440.93L99.04 439.47" stroke="#111" stroke-width="1.15" stroke-linecap="round"/>
<line x1="89.4" y1="461.7" x2="137.9" y2="461.7" stroke="#444" stroke-width="1"/>
<path d="M113.65 455.25L113.65 458.15M114.91 455.97L112.39 457.43M114.91 457.43L112.39 455.97" stroke="#111" stroke-width="1.15" stroke-linecap="round"/>
<line x1="105.6" y1="477.6" x2="137.9" y2="477.6" stroke="#444" stroke-width="1"/>
<path d="M115 471.15L115 474.05M116.26 471.88L113.74 473.33M116.26 473.33L113.74 471.88" stroke="#111" stroke-width="1.15" stroke-linecap="round"/>
<path d="M119.5 471.15L119.5 474.05M120.76 471.88L118.24 473.33M120.76 473.33L118.24 471.88" stroke="#111" stroke-width="1.15" stroke-linecap="round"/>
<path d="M124 471.15L124 474.05M125.26 471.88L122.74 473.33M125.26 473.33L122.74 471.88" stroke="#111" stroke-width="1.15" stroke-linecap="round"/>
<path d="M128.5 471.15L128.5 474.05M129.76 471.88L127.24 473.33M129.76 473.33L127.24 471.88" stroke="#111" stroke-width="1.15" stroke-linecap="round"/>
<line x1="58.2" y1="490.1" x2="121.8" y2="490.1" stroke="#444" stroke-width="1"/>
<path d="M90 483.65L90 486.55M91.26 484.38L88.74 485.83M91.26 485.83L88.74 484.38" stroke="#111" stroke-width="1.15" stroke-linecap="round"/>
<line x1="105.6" y1="502.8" x2="121.8" y2="502.8" stroke="#444" stroke-width="1"/>
<path d="M109.2 496.35L109.2 499.25M110.46 497.07L107.94 498.53M110.46 498.53L107.94 497.07" stroke="#111" stroke-width="1.15" stroke-linecap="round"/>
<path d="M113.7 496.35L113.7 499.25M114.96 497.07L112.44 498.53M114.96 498.53L112.44 497.07" stroke="#111" stroke-width="1.15" stroke-linecap="round"/>
<path d="M118.2 496.35L118.2 499.25M119.46 497.07L116.94 498.53M119.46 498.53L116.94 497.07" stroke="#111" stroke-width="1.15" stroke-linecap="round"/>
<line x1="58.2" y1="515.1" x2="74.1" y2="515.1" stroke="#444" stroke-width="1"/>
<path d="M63.9 508.65L63.9 511.55M65.16 509.38L62.64 510.83M65.16 510.83L62.64 509.38" stroke="#111" stroke-width="1.15" stroke-linecap="round"/>
<path d="M68.4 508.65L68.4 511.55M69.66 509.38L67.14 510.83M69.66 510.83L67.14 509.38" stroke="#111" stroke-width="1.15" stroke-linecap="round"/>
<line x1="89.4" y1="515.1" x2="105.6" y2="515.1" stroke="#444" stroke-width="1"/>
<text x="97.5" y="512" font-size="6.3" font-weight="normal" text-anchor="middle" fill="#222" stroke="#222" stroke-width="0.18">ns</text>
<line x1="121.8" y1="515.1" x2="137.9" y2="515.1" stroke="#444" stroke-width="1"/>
<text x="129.85" y="512" font-size="6.3" font-weight="normal" text-anchor="middle" fill="#222" stroke="#222" stroke-width="0.18">ns</text>
<text x="179.4" y="422.2" font-size="14.5" font-weight="bold" text-anchor="start" fill="#1a1212" stroke="#1a1212" stroke-width="0.22">j</text>
<rect x="222.9" y="532.2" width="10.8" height="27.3" fill="#3e3a72"/>
<rect x="239.2" y="526.2" width="10.8" height="33.3" fill="#3c7da6"/>
<rect x="255.7" y="535" width="10.8" height="24.5" fill="#5b83be"/>
<rect x="271.8" y="532.9" width="10.8" height="26.6" fill="#cfaa8f"/>
<rect x="288" y="547.9" width="10.8" height="11.6" fill="#d4665e"/>
<rect x="304.4" y="550.8" width="10.8" height="8.7" fill="#a56b22"/>
<line x1="228.3" y1="532.2" x2="228.3" y2="529.3" stroke="#6a66a0" stroke-width="1.2"/>
<line x1="225.3" y1="529.3" x2="231.3" y2="529.3" stroke="#6a66a0" stroke-width="1.2"/>
<line x1="244.6" y1="526.2" x2="244.6" y2="522.5" stroke="#6aa6cc" stroke-width="1.2"/>
<line x1="241.6" y1="522.5" x2="247.6" y2="522.5" stroke="#6aa6cc" stroke-width="1.2"/>
<line x1="261.1" y1="535" x2="261.1" y2="531.8" stroke="#86a6da" stroke-width="1.2"/>
<line x1="258.1" y1="531.8" x2="264.1" y2="531.8" stroke="#86a6da" stroke-width="1.2"/>
<line x1="277.2" y1="532.9" x2="277.2" y2="528.3" stroke="#e4c2aa" stroke-width="1.2"/>
<line x1="274.2" y1="528.3" x2="280.2" y2="528.3" stroke="#e4c2aa" stroke-width="1.2"/>
<line x1="309.8" y1="550.8" x2="309.8" y2="541.5" stroke="#e0b585" stroke-width="1.2"/>
<line x1="306.8" y1="541.5" x2="312.8" y2="541.5" stroke="#e0b585" stroke-width="1.2"/>
<circle cx="228.3" cy="505.7" r="1.4" fill="#000"/>
<circle cx="228.3" cy="516.5" r="1.4" fill="#000"/>
<circle cx="227.25" cy="527.2" r="1.4" fill="#000"/>
<circle cx="229.35" cy="527.2" r="1.4" fill="#000"/>
<circle cx="224.1" cy="537.9" r="1.4" fill="#000"/>
<circle cx="226.2" cy="537.9" r="1.4" fill="#000"/>
<circle cx="228.3" cy="537.9" r="1.4" fill="#000"/>
<circle cx="230.4" cy="537.9" r="1.4" fill="#000"/>
<circle cx="232.5" cy="537.9" r="1.4" fill="#000"/>
<circle cx="228.3" cy="548.6" r="1.4" fill="#000"/>
<circle cx="243.55" cy="505.7" r="1.4" fill="#000"/>
<circle cx="245.65" cy="505.7" r="1.4" fill="#000"/>
<circle cx="243.55" cy="516.5" r="1.4" fill="#000"/>
<circle cx="245.65" cy="516.5" r="1.4" fill="#000"/>
<circle cx="243.55" cy="527.2" r="1.4" fill="#000"/>
<circle cx="245.65" cy="527.2" r="1.4" fill="#000"/>
<circle cx="240.4" cy="537.9" r="1.4" fill="#000"/>
<circle cx="242.5" cy="537.9" r="1.4" fill="#000"/>
<circle cx="244.6" cy="537.9" r="1.4" fill="#000"/>
<circle cx="246.7" cy="537.9" r="1.4" fill="#000"/>
<circle cx="248.8" cy="537.9" r="1.4" fill="#000"/>
<circle cx="260.05" cy="516.5" r="1.4" fill="#000"/>
<circle cx="262.15" cy="516.5" r="1.4" fill="#000"/>
<circle cx="260.05" cy="527.2" r="1.4" fill="#000"/>
<circle cx="262.15" cy="527.2" r="1.4" fill="#000"/>
<circle cx="256.9" cy="537.9" r="1.4" fill="#000"/>
<circle cx="259" cy="537.9" r="1.4" fill="#000"/>
<circle cx="261.1" cy="537.9" r="1.4" fill="#000"/>
<circle cx="263.2" cy="537.9" r="1.4" fill="#000"/>
<circle cx="265.3" cy="537.9" r="1.4" fill="#000"/>
<circle cx="259" cy="548.6" r="1.4" fill="#000"/>
<circle cx="261.1" cy="548.6" r="1.4" fill="#000"/>
<circle cx="263.2" cy="548.6" r="1.4" fill="#000"/>
<circle cx="276.15" cy="505.7" r="1.4" fill="#000"/>
<circle cx="278.25" cy="505.7" r="1.4" fill="#000"/>
<circle cx="277.2" cy="516.5" r="1.4" fill="#000"/>
<circle cx="276.15" cy="527.2" r="1.4" fill="#000"/>
<circle cx="278.25" cy="527.2" r="1.4" fill="#000"/>
<circle cx="277.2" cy="537.9" r="1.4" fill="#000"/>
<circle cx="273" cy="548.6" r="1.4" fill="#000"/>
<circle cx="275.1" cy="548.6" r="1.4" fill="#000"/>
<circle cx="277.2" cy="548.6" r="1.4" fill="#000"/>
<circle cx="279.3" cy="548.6" r="1.4" fill="#000"/>
<circle cx="281.4" cy="548.6" r="1.4" fill="#000"/>
<circle cx="293.4" cy="537.9" r="1.4" fill="#000"/>
<circle cx="289.2" cy="548.6" r="1.4" fill="#000"/>
<circle cx="291.3" cy="548.6" r="1.4" fill="#000"/>
<circle cx="293.4" cy="548.6" r="1.4" fill="#000"/>
<circle cx="295.5" cy="548.6" r="1.4" fill="#000"/>
<circle cx="297.6" cy="548.6" r="1.4" fill="#000"/>
<circle cx="291.3" cy="558.9" r="1.4" fill="#000"/>
<circle cx="293.4" cy="558.9" r="1.4" fill="#000"/>
<circle cx="295.5" cy="558.9" r="1.4" fill="#000"/>
<circle cx="307.7" cy="537.9" r="1.4" fill="#000"/>
<circle cx="309.8" cy="537.9" r="1.4" fill="#000"/>
<circle cx="311.9" cy="537.9" r="1.4" fill="#000"/>
<circle cx="305.6" cy="548.6" r="1.4" fill="#000"/>
<circle cx="307.7" cy="548.6" r="1.4" fill="#000"/>
<circle cx="309.8" cy="548.6" r="1.4" fill="#000"/>
<circle cx="311.9" cy="548.6" r="1.4" fill="#000"/>
<circle cx="314" cy="548.6" r="1.4" fill="#000"/>
<circle cx="305.6" cy="558.9" r="1.4" fill="#000"/>
<circle cx="307.7" cy="558.9" r="1.4" fill="#000"/>
<circle cx="309.8" cy="558.9" r="1.4" fill="#000"/>
<circle cx="311.9" cy="558.9" r="1.4" fill="#000"/>
<circle cx="314" cy="558.9" r="1.4" fill="#000"/>
<line x1="217.5" y1="472.5" x2="217.5" y2="560" stroke="#222" stroke-width="1.1"/>
<line x1="217" y1="559.5" x2="321.5" y2="559.5" stroke="#222" stroke-width="1.1"/>
<line x1="214.5" y1="559.5" x2="217.5" y2="559.5" stroke="#222" stroke-width="1"/>
<text x="213.3" y="562.84" font-size="7.59" font-weight="bold" text-anchor="end" fill="#111" stroke="#111" stroke-width="0.22" transform="translate(213.3 562.84) scale(0.85 1) translate(-213.3 -562.84)">0</text>
<line x1="214.5" y1="537.88" x2="217.5" y2="537.88" stroke="#222" stroke-width="1"/>
<text x="213.3" y="541.21" font-size="7.59" font-weight="bold" text-anchor="end" fill="#111" stroke="#111" stroke-width="0.22" transform="translate(213.3 541.21) scale(0.85 1) translate(-213.3 -541.21)">2</text>
<line x1="214.5" y1="516.25" x2="217.5" y2="516.25" stroke="#222" stroke-width="1"/>
<text x="213.3" y="519.59" font-size="7.59" font-weight="bold" text-anchor="end" fill="#111" stroke="#111" stroke-width="0.22" transform="translate(213.3 519.59) scale(0.85 1) translate(-213.3 -519.59)">4</text>
<line x1="214.5" y1="494.62" x2="217.5" y2="494.62" stroke="#222" stroke-width="1"/>
<text x="213.3" y="497.96" font-size="7.59" font-weight="bold" text-anchor="end" fill="#111" stroke="#111" stroke-width="0.22" transform="translate(213.3 497.96) scale(0.85 1) translate(-213.3 -497.96)">6</text>
<line x1="214.5" y1="473" x2="217.5" y2="473" stroke="#222" stroke-width="1"/>
<text x="213.3" y="476.34" font-size="7.59" font-weight="bold" text-anchor="end" fill="#111" stroke="#111" stroke-width="0.22" transform="translate(213.3 476.34) scale(0.85 1) translate(-213.3 -476.34)">8</text>
<line x1="228.3" y1="559.5" x2="228.3" y2="562.5" stroke="#222" stroke-width="1.2"/>
<line x1="244.6" y1="559.5" x2="244.6" y2="562.5" stroke="#222" stroke-width="1.2"/>
<line x1="261.1" y1="559.5" x2="261.1" y2="562.5" stroke="#222" stroke-width="1.2"/>
<line x1="277.2" y1="559.5" x2="277.2" y2="562.5" stroke="#222" stroke-width="1.2"/>
<line x1="293.4" y1="559.5" x2="293.4" y2="562.5" stroke="#222" stroke-width="1.2"/>
<line x1="309.8" y1="559.5" x2="309.8" y2="562.5" stroke="#222" stroke-width="1.2"/>
<text x="231" y="569.9" font-size="7.4" font-weight="bold" text-anchor="end" fill="#111" stroke="#111" stroke-width="0.22" transform="rotate(-45 231 569.9)">Control</text>
<text x="247.3" y="569.9" font-size="7.4" font-weight="bold" text-anchor="end" fill="#111" stroke="#111" stroke-width="0.22" transform="rotate(-45 247.3 569.9)">AAV-PTBP1+NgR</text>
<text x="263.8" y="569.9" font-size="7.4" font-weight="bold" text-anchor="end" fill="#111" stroke="#111" stroke-width="0.22" transform="rotate(-45 263.8 569.9)">AAV-PTBP1/SPS</text>
<text x="279.9" y="569.9" font-size="7.4" font-weight="bold" text-anchor="end" fill="#111" stroke="#111" stroke-width="0.22" transform="rotate(-45 279.9 569.9)">AAV-PTBP1+NgR/SPS</text>
<text x="296.1" y="569.9" font-size="7.4" font-weight="bold" text-anchor="end" fill="#111" stroke="#111" stroke-width="0.22" transform="rotate(-45 296.1 569.9)">AAV-Empty/SPS</text>
<text x="312.5" y="569.9" font-size="7.4" font-weight="bold" text-anchor="end" fill="#111" stroke="#111" stroke-width="0.22" transform="rotate(-45 312.5 569.9)">SPS</text>
<text x="194.2" y="516.25" font-size="8.2" font-weight="bold" text-anchor="middle" fill="#111" stroke="#111" stroke-width="0.22" transform="rotate(-90 194.2 516.25)">Number of</text>
<text x="204" y="516.25" font-size="8.2" font-weight="bold" text-anchor="middle" fill="#111" stroke="#111" stroke-width="0.22" transform="rotate(-90 204 516.25)">crossing platform</text>
<line x1="228.3" y1="415.2" x2="309.8" y2="415.2" stroke="#444" stroke-width="1"/>
<path d="M266.8 408.75L266.8 411.65M268.06 409.47L265.54 410.93M268.06 410.93L265.54 409.47" stroke="#111" stroke-width="1.15" stroke-linecap="round"/>
<path d="M271.3 408.75L271.3 411.65M272.56 409.47L270.04 410.93M272.56 410.93L270.04 409.47" stroke="#111" stroke-width="1.15" stroke-linecap="round"/>
<line x1="261.1" y1="430.8" x2="309.8" y2="430.8" stroke="#444" stroke-width="1"/>
<path d="M285.45 424.35L285.45 427.25M286.71 425.07L284.19 426.53M286.71 426.53L284.19 425.07" stroke="#111" stroke-width="1.15" stroke-linecap="round"/>
<line x1="277.2" y1="446.7" x2="309.8" y2="446.7" stroke="#444" stroke-width="1"/>
<path d="M291.25 440.25L291.25 443.15M292.51 440.97L289.99 442.43M292.51 442.43L289.99 440.97" stroke="#111" stroke-width="1.15" stroke-linecap="round"/>
<path d="M295.75 440.25L295.75 443.15M297.01 440.97L294.49 442.43M297.01 442.43L294.49 440.97" stroke="#111" stroke-width="1.15" stroke-linecap="round"/>
<line x1="228.3" y1="458.6" x2="293.4" y2="458.6" stroke="#444" stroke-width="1"/>
<path d="M258.6 452.15L258.6 455.05M259.86 452.88L257.34 454.33M259.86 454.33L257.34 452.88" stroke="#111" stroke-width="1.15" stroke-linecap="round"/>
<path d="M263.1 452.15L263.1 455.05M264.36 452.88L261.84 454.33M264.36 454.33L261.84 452.88" stroke="#111" stroke-width="1.15" stroke-linecap="round"/>
<line x1="261.1" y1="473.2" x2="293.4" y2="473.2" stroke="#444" stroke-width="1"/>
<path d="M277.25 466.75L277.25 469.65M278.51 467.47L275.99 468.93M278.51 468.93L275.99 467.47" stroke="#111" stroke-width="1.15" stroke-linecap="round"/>
<line x1="277.2" y1="487.6" x2="293.4" y2="487.6" stroke="#444" stroke-width="1"/>
<path d="M283.05 481.15L283.05 484.05M284.31 481.88L281.79 483.33M284.31 483.33L281.79 481.88" stroke="#111" stroke-width="1.15" stroke-linecap="round"/>
<path d="M287.55 481.15L287.55 484.05M288.81 481.88L286.29 483.33M288.81 483.33L286.29 481.88" stroke="#111" stroke-width="1.15" stroke-linecap="round"/>
<line x1="228.3" y1="499.2" x2="244.6" y2="499.2" stroke="#444" stroke-width="1"/>
<text x="236.45" y="496.1" font-size="6.3" font-weight="normal" text-anchor="middle" fill="#222" stroke="#222" stroke-width="0.18">ns</text>
<line x1="261.1" y1="499.2" x2="277.2" y2="499.2" stroke="#444" stroke-width="1"/>
<text x="269.15" y="496.1" font-size="6.3" font-weight="normal" text-anchor="middle" fill="#222" stroke="#222" stroke-width="0.18">ns</text>
<line x1="293.4" y1="499.2" x2="309.8" y2="499.2" stroke="#444" stroke-width="1"/>
<text x="301.6" y="496.1" font-size="6.3" font-weight="normal" text-anchor="middle" fill="#222" stroke="#222" stroke-width="0.18">ns</text>
<text x="365" y="422.4" font-size="14.5" font-weight="bold" text-anchor="start" fill="#1a1212" stroke="#1a1212" stroke-width="0.22">k</text>
<line x1="420.7" y1="497.25" x2="420.7" y2="493.1" stroke="#dcae7a" stroke-width="0.9"/>
<line x1="418.5" y1="493.1" x2="422.9" y2="493.1" stroke="#dcae7a" stroke-width="0.9"/>
<line x1="418.5" y1="497.25" x2="422.9" y2="497.25" stroke="#dcae7a" stroke-width="0.9"/>
<line x1="449.94" y1="513.18" x2="449.94" y2="507.64" stroke="#dcae7a" stroke-width="0.9"/>
<line x1="447.74" y1="507.64" x2="452.14" y2="507.64" stroke="#dcae7a" stroke-width="0.9"/>
<line x1="447.74" y1="513.18" x2="452.14" y2="513.18" stroke="#dcae7a" stroke-width="0.9"/>
<line x1="479.18" y1="525.65" x2="479.18" y2="520.11" stroke="#dcae7a" stroke-width="0.9"/>
<line x1="476.98" y1="520.11" x2="481.38" y2="520.11" stroke="#dcae7a" stroke-width="0.9"/>
<line x1="476.98" y1="525.65" x2="481.38" y2="525.65" stroke="#dcae7a" stroke-width="0.9"/>
<line x1="508.42" y1="536.03" x2="508.42" y2="527.73" stroke="#dcae7a" stroke-width="0.9"/>
<line x1="506.22" y1="527.73" x2="510.62" y2="527.73" stroke="#dcae7a" stroke-width="0.9"/>
<line x1="506.22" y1="536.03" x2="510.62" y2="536.03" stroke="#dcae7a" stroke-width="0.9"/>
<line x1="537.66" y1="533.26" x2="537.66" y2="527.73" stroke="#dcae7a" stroke-width="0.9"/>
<line x1="535.46" y1="527.73" x2="539.86" y2="527.73" stroke="#dcae7a" stroke-width="0.9"/>
<line x1="535.46" y1="533.26" x2="539.86" y2="533.26" stroke="#dcae7a" stroke-width="0.9"/>
<line x1="566.9" y1="531.19" x2="566.9" y2="522.88" stroke="#dcae7a" stroke-width="0.9"/>
<line x1="564.7" y1="522.88" x2="569.1" y2="522.88" stroke="#dcae7a" stroke-width="0.9"/>
<line x1="564.7" y1="531.19" x2="569.1" y2="531.19" stroke="#dcae7a" stroke-width="0.9"/>
<polyline points="420.7,495.18 449.94,510.41 479.18,522.88 508.42,531.88 537.66,530.5 566.9,527.03" fill="none" stroke="#b8762e" stroke-width="1.2"/>
<circle cx="420.7" cy="495.18" r="2.1" fill="#b8762e"/>
<circle cx="449.94" cy="510.41" r="2.1" fill="#b8762e"/>
<circle cx="479.18" cy="522.88" r="2.1" fill="#b8762e"/>
<circle cx="508.42" cy="531.88" r="2.1" fill="#b8762e"/>
<circle cx="537.66" cy="530.5" r="2.1" fill="#b8762e"/>
<circle cx="566.9" cy="527.03" r="2.1" fill="#b8762e"/>
<line x1="420.7" y1="500.02" x2="420.7" y2="494.49" stroke="#f0a09a" stroke-width="0.9"/>
<line x1="418.5" y1="494.49" x2="422.9" y2="494.49" stroke="#f0a09a" stroke-width="0.9"/>
<line x1="418.5" y1="500.02" x2="422.9" y2="500.02" stroke="#f0a09a" stroke-width="0.9"/>
<line x1="449.94" y1="515.26" x2="449.94" y2="506.95" stroke="#f0a09a" stroke-width="0.9"/>
<line x1="447.74" y1="506.95" x2="452.14" y2="506.95" stroke="#f0a09a" stroke-width="0.9"/>
<line x1="447.74" y1="515.26" x2="452.14" y2="515.26" stroke="#f0a09a" stroke-width="0.9"/>
<line x1="479.18" y1="526.34" x2="479.18" y2="520.8" stroke="#f0a09a" stroke-width="0.9"/>
<line x1="476.98" y1="520.8" x2="481.38" y2="520.8" stroke="#f0a09a" stroke-width="0.9"/>
<line x1="476.98" y1="526.34" x2="481.38" y2="526.34" stroke="#f0a09a" stroke-width="0.9"/>
<line x1="508.42" y1="535.34" x2="508.42" y2="527.03" stroke="#f0a09a" stroke-width="0.9"/>
<line x1="506.22" y1="527.03" x2="510.62" y2="527.03" stroke="#f0a09a" stroke-width="0.9"/>
<line x1="506.22" y1="535.34" x2="510.62" y2="535.34" stroke="#f0a09a" stroke-width="0.9"/>
<line x1="537.66" y1="533.26" x2="537.66" y2="522.19" stroke="#f0a09a" stroke-width="0.9"/>
<line x1="535.46" y1="522.19" x2="539.86" y2="522.19" stroke="#f0a09a" stroke-width="0.9"/>
<line x1="535.46" y1="533.26" x2="539.86" y2="533.26" stroke="#f0a09a" stroke-width="0.9"/>
<line x1="566.9" y1="532.57" x2="566.9" y2="524.26" stroke="#f0a09a" stroke-width="0.9"/>
<line x1="564.7" y1="524.26" x2="569.1" y2="524.26" stroke="#f0a09a" stroke-width="0.9"/>
<line x1="564.7" y1="532.57" x2="569.1" y2="532.57" stroke="#f0a09a" stroke-width="0.9"/>
<polyline points="420.7,497.25 449.94,511.11 479.18,523.57 508.42,531.19 537.66,527.73 566.9,528.42" fill="none" stroke="#dc6e68" stroke-width="1.2"/>
<circle cx="420.7" cy="497.25" r="2.1" fill="#dc6e68"/>
<circle cx="449.94" cy="511.11" r="2.1" fill="#dc6e68"/>
<circle cx="479.18" cy="523.57" r="2.1" fill="#dc6e68"/>
<circle cx="508.42" cy="531.19" r="2.1" fill="#dc6e68"/>
<circle cx="537.66" cy="527.73" r="2.1" fill="#dc6e68"/>
<circle cx="566.9" cy="528.42" r="2.1" fill="#dc6e68"/>
<line x1="420.7" y1="501.41" x2="420.7" y2="495.87" stroke="#e8c8b5" stroke-width="0.9"/>
<line x1="418.5" y1="495.87" x2="422.9" y2="495.87" stroke="#e8c8b5" stroke-width="0.9"/>
<line x1="418.5" y1="501.41" x2="422.9" y2="501.41" stroke="#e8c8b5" stroke-width="0.9"/>
<line x1="449.94" y1="522.19" x2="449.94" y2="513.88" stroke="#e8c8b5" stroke-width="0.9"/>
<line x1="447.74" y1="513.88" x2="452.14" y2="513.88" stroke="#e8c8b5" stroke-width="0.9"/>
<line x1="447.74" y1="522.19" x2="452.14" y2="522.19" stroke="#e8c8b5" stroke-width="0.9"/>
<line x1="479.18" y1="536.03" x2="479.18" y2="530.5" stroke="#e8c8b5" stroke-width="0.9"/>
<line x1="476.98" y1="530.5" x2="481.38" y2="530.5" stroke="#e8c8b5" stroke-width="0.9"/>
<line x1="476.98" y1="536.03" x2="481.38" y2="536.03" stroke="#e8c8b5" stroke-width="0.9"/>
<line x1="508.42" y1="545.73" x2="508.42" y2="540.19" stroke="#e8c8b5" stroke-width="0.9"/>
<line x1="506.22" y1="540.19" x2="510.62" y2="540.19" stroke="#e8c8b5" stroke-width="0.9"/>
<line x1="506.22" y1="545.73" x2="510.62" y2="545.73" stroke="#e8c8b5" stroke-width="0.9"/>
<line x1="537.66" y1="548.5" x2="537.66" y2="542.96" stroke="#e8c8b5" stroke-width="0.9"/>
<line x1="535.46" y1="542.96" x2="539.86" y2="542.96" stroke="#e8c8b5" stroke-width="0.9"/>
<line x1="535.46" y1="548.5" x2="539.86" y2="548.5" stroke="#e8c8b5" stroke-width="0.9"/>
<line x1="566.9" y1="544.35" x2="566.9" y2="538.81" stroke="#e8c8b5" stroke-width="0.9"/>
<line x1="564.7" y1="538.81" x2="569.1" y2="538.81" stroke="#e8c8b5" stroke-width="0.9"/>
<line x1="564.7" y1="544.35" x2="569.1" y2="544.35" stroke="#e8c8b5" stroke-width="0.9"/>
<polyline points="420.7,498.64 449.94,518.03 479.18,533.26 508.42,542.96 537.66,545.73 566.9,541.58" fill="none" stroke="#d9b29e" stroke-width="1.2"/>
<circle cx="420.7" cy="498.64" r="2.1" fill="#d9b29e"/>
<circle cx="449.94" cy="518.03" r="2.1" fill="#d9b29e"/>
<circle cx="479.18" cy="533.26" r="2.1" fill="#d9b29e"/>
<circle cx="508.42" cy="542.96" r="2.1" fill="#d9b29e"/>
<circle cx="537.66" cy="545.73" r="2.1" fill="#d9b29e"/>
<circle cx="566.9" cy="541.58" r="2.1" fill="#d9b29e"/>
<line x1="420.7" y1="502.8" x2="420.7" y2="497.25" stroke="#86a6da" stroke-width="0.9"/>
<line x1="418.5" y1="497.25" x2="422.9" y2="497.25" stroke="#86a6da" stroke-width="0.9"/>
<line x1="418.5" y1="502.8" x2="422.9" y2="502.8" stroke="#86a6da" stroke-width="0.9"/>
<line x1="449.94" y1="516.64" x2="449.94" y2="508.34" stroke="#86a6da" stroke-width="0.9"/>
<line x1="447.74" y1="508.34" x2="452.14" y2="508.34" stroke="#86a6da" stroke-width="0.9"/>
<line x1="447.74" y1="516.64" x2="452.14" y2="516.64" stroke="#86a6da" stroke-width="0.9"/>
<line x1="479.18" y1="531.88" x2="479.18" y2="526.34" stroke="#86a6da" stroke-width="0.9"/>
<line x1="476.98" y1="526.34" x2="481.38" y2="526.34" stroke="#86a6da" stroke-width="0.9"/>
<line x1="476.98" y1="531.88" x2="481.38" y2="531.88" stroke="#86a6da" stroke-width="0.9"/>
<line x1="508.42" y1="541.58" x2="508.42" y2="536.03" stroke="#86a6da" stroke-width="0.9"/>
<line x1="506.22" y1="536.03" x2="510.62" y2="536.03" stroke="#86a6da" stroke-width="0.9"/>
<line x1="506.22" y1="541.58" x2="510.62" y2="541.58" stroke="#86a6da" stroke-width="0.9"/>
<line x1="537.66" y1="544.35" x2="537.66" y2="538.81" stroke="#86a6da" stroke-width="0.9"/>
<line x1="535.46" y1="538.81" x2="539.86" y2="538.81" stroke="#86a6da" stroke-width="0.9"/>
<line x1="535.46" y1="544.35" x2="539.86" y2="544.35" stroke="#86a6da" stroke-width="0.9"/>
<line x1="566.9" y1="540.88" x2="566.9" y2="535.34" stroke="#86a6da" stroke-width="0.9"/>
<line x1="564.7" y1="535.34" x2="569.1" y2="535.34" stroke="#86a6da" stroke-width="0.9"/>
<line x1="564.7" y1="540.88" x2="569.1" y2="540.88" stroke="#86a6da" stroke-width="0.9"/>
<polyline points="420.7,500.02 449.94,512.49 479.18,529.11 508.42,538.81 537.66,541.58 566.9,538.11" fill="none" stroke="#5b83be" stroke-width="1.2"/>
<circle cx="420.7" cy="500.02" r="2.1" fill="#5b83be"/>
<circle cx="449.94" cy="512.49" r="2.1" fill="#5b83be"/>
<circle cx="479.18" cy="529.11" r="2.1" fill="#5b83be"/>
<circle cx="508.42" cy="538.81" r="2.1" fill="#5b83be"/>
<circle cx="537.66" cy="541.58" r="2.1" fill="#5b83be"/>
<circle cx="566.9" cy="538.11" r="2.1" fill="#5b83be"/>
<line x1="420.7" y1="511.11" x2="420.7" y2="502.8" stroke="#6aa6cc" stroke-width="0.9"/>
<line x1="418.5" y1="502.8" x2="422.9" y2="502.8" stroke="#6aa6cc" stroke-width="0.9"/>
<line x1="418.5" y1="511.11" x2="422.9" y2="511.11" stroke="#6aa6cc" stroke-width="0.9"/>
<line x1="449.94" y1="535.34" x2="449.94" y2="524.26" stroke="#6aa6cc" stroke-width="0.9"/>
<line x1="447.74" y1="524.26" x2="452.14" y2="524.26" stroke="#6aa6cc" stroke-width="0.9"/>
<line x1="447.74" y1="535.34" x2="452.14" y2="535.34" stroke="#6aa6cc" stroke-width="0.9"/>
<line x1="479.18" y1="541.58" x2="479.18" y2="537.42" stroke="#6aa6cc" stroke-width="0.9"/>
<line x1="476.98" y1="537.42" x2="481.38" y2="537.42" stroke="#6aa6cc" stroke-width="0.9"/>
<line x1="476.98" y1="541.58" x2="481.38" y2="541.58" stroke="#6aa6cc" stroke-width="0.9"/>
<line x1="508.42" y1="549.88" x2="508.42" y2="545.73" stroke="#6aa6cc" stroke-width="0.9"/>
<line x1="506.22" y1="545.73" x2="510.62" y2="545.73" stroke="#6aa6cc" stroke-width="0.9"/>
<line x1="506.22" y1="549.88" x2="510.62" y2="549.88" stroke="#6aa6cc" stroke-width="0.9"/>
<line x1="537.66" y1="554.04" x2="537.66" y2="547.12" stroke="#6aa6cc" stroke-width="0.9"/>
<line x1="535.46" y1="547.12" x2="539.86" y2="547.12" stroke="#6aa6cc" stroke-width="0.9"/>
<line x1="535.46" y1="554.04" x2="539.86" y2="554.04" stroke="#6aa6cc" stroke-width="0.9"/>
<line x1="566.9" y1="551.27" x2="566.9" y2="547.12" stroke="#6aa6cc" stroke-width="0.9"/>
<line x1="564.7" y1="547.12" x2="569.1" y2="547.12" stroke="#6aa6cc" stroke-width="0.9"/>
<line x1="564.7" y1="551.27" x2="569.1" y2="551.27" stroke="#6aa6cc" stroke-width="0.9"/>
<polyline points="420.7,506.95 449.94,529.8 479.18,539.5 508.42,547.81 537.66,550.58 566.9,549.19" fill="none" stroke="#3c7da6" stroke-width="1.2"/>
<circle cx="420.7" cy="506.95" r="2.1" fill="#3c7da6"/>
<circle cx="449.94" cy="529.8" r="2.1" fill="#3c7da6"/>
<circle cx="479.18" cy="539.5" r="2.1" fill="#3c7da6"/>
<circle cx="508.42" cy="547.81" r="2.1" fill="#3c7da6"/>
<circle cx="537.66" cy="550.58" r="2.1" fill="#3c7da6"/>
<circle cx="566.9" cy="549.19" r="2.1" fill="#3c7da6"/>
<line x1="420.7" y1="506.26" x2="420.7" y2="500.72" stroke="#6a66a0" stroke-width="0.9"/>
<line x1="418.5" y1="500.72" x2="422.9" y2="500.72" stroke="#6a66a0" stroke-width="0.9"/>
<line x1="418.5" y1="506.26" x2="422.9" y2="506.26" stroke="#6a66a0" stroke-width="0.9"/>
<line x1="449.94" y1="524.26" x2="449.94" y2="518.72" stroke="#6a66a0" stroke-width="0.9"/>
<line x1="447.74" y1="518.72" x2="452.14" y2="518.72" stroke="#6a66a0" stroke-width="0.9"/>
<line x1="447.74" y1="524.26" x2="452.14" y2="524.26" stroke="#6a66a0" stroke-width="0.9"/>
<line x1="479.18" y1="536.73" x2="479.18" y2="532.57" stroke="#6a66a0" stroke-width="0.9"/>
<line x1="476.98" y1="532.57" x2="481.38" y2="532.57" stroke="#6a66a0" stroke-width="0.9"/>
<line x1="476.98" y1="536.73" x2="481.38" y2="536.73" stroke="#6a66a0" stroke-width="0.9"/>
<line x1="508.42" y1="546.42" x2="508.42" y2="542.27" stroke="#6a66a0" stroke-width="0.9"/>
<line x1="506.22" y1="542.27" x2="510.62" y2="542.27" stroke="#6a66a0" stroke-width="0.9"/>
<line x1="506.22" y1="546.42" x2="510.62" y2="546.42" stroke="#6a66a0" stroke-width="0.9"/>
<line x1="537.66" y1="549.88" x2="537.66" y2="545.73" stroke="#6a66a0" stroke-width="0.9"/>
<line x1="535.46" y1="545.73" x2="539.86" y2="545.73" stroke="#6a66a0" stroke-width="0.9"/>
<line x1="535.46" y1="549.88" x2="539.86" y2="549.88" stroke="#6a66a0" stroke-width="0.9"/>
<line x1="566.9" y1="547.12" x2="566.9" y2="542.96" stroke="#6a66a0" stroke-width="0.9"/>
<line x1="564.7" y1="542.96" x2="569.1" y2="542.96" stroke="#6a66a0" stroke-width="0.9"/>
<line x1="564.7" y1="547.12" x2="569.1" y2="547.12" stroke="#6a66a0" stroke-width="0.9"/>
<polyline points="420.7,503.49 449.94,521.49 479.18,534.65 508.42,544.35 537.66,547.81 566.9,545.04" fill="none" stroke="#3e3a72" stroke-width="1.2"/>
<circle cx="420.7" cy="503.49" r="2.1" fill="#3e3a72"/>
<circle cx="449.94" cy="521.49" r="2.1" fill="#3e3a72"/>
<circle cx="479.18" cy="534.65" r="2.1" fill="#3e3a72"/>
<circle cx="508.42" cy="544.35" r="2.1" fill="#3e3a72"/>
<circle cx="537.66" cy="547.81" r="2.1" fill="#3e3a72"/>
<circle cx="566.9" cy="545.04" r="2.1" fill="#3e3a72"/>
<line x1="401.6" y1="464.9" x2="401.6" y2="576.9" stroke="#111" stroke-width="1.4"/>
<line x1="400.9" y1="576.2" x2="586.8" y2="576.2" stroke="#111" stroke-width="1.4"/>
<line x1="398.4" y1="576.2" x2="401.6" y2="576.2" stroke="#111" stroke-width="1.2"/>
<text x="397.1" y="579.3" font-size="8.5" font-weight="bold" text-anchor="end" fill="#111" stroke="#111" stroke-width="0.22" transform="translate(397.1 579.3) scale(0.87 1) translate(-397.1 -579.3)">0</text>
<line x1="398.4" y1="548.5" x2="401.6" y2="548.5" stroke="#111" stroke-width="1.2"/>
<text x="397.1" y="551.6" font-size="8.5" font-weight="bold" text-anchor="end" fill="#111" stroke="#111" stroke-width="0.22" transform="translate(397.1 551.6) scale(0.87 1) translate(-397.1 -551.6)">20</text>
<line x1="398.4" y1="520.8" x2="401.6" y2="520.8" stroke="#111" stroke-width="1.2"/>
<text x="397.1" y="523.9" font-size="8.5" font-weight="bold" text-anchor="end" fill="#111" stroke="#111" stroke-width="0.22" transform="translate(397.1 523.9) scale(0.87 1) translate(-397.1 -523.9)">40</text>
<line x1="398.4" y1="493.1" x2="401.6" y2="493.1" stroke="#111" stroke-width="1.2"/>
<text x="397.1" y="496.2" font-size="8.5" font-weight="bold" text-anchor="end" fill="#111" stroke="#111" stroke-width="0.22" transform="translate(397.1 496.2) scale(0.87 1) translate(-397.1 -496.2)">60</text>
<line x1="398.4" y1="465.4" x2="401.6" y2="465.4" stroke="#111" stroke-width="1.2"/>
<text x="397.1" y="468.5" font-size="8.5" font-weight="bold" text-anchor="end" fill="#111" stroke="#111" stroke-width="0.22" transform="translate(397.1 468.5) scale(0.87 1) translate(-397.1 -468.5)">80</text>
<line x1="420.7" y1="576.2" x2="420.7" y2="579.4" stroke="#111" stroke-width="1.2"/>
<text x="420.7" y="588.9" font-size="8.5" font-weight="bold" text-anchor="middle" fill="#111" stroke="#111" stroke-width="0.22" transform="translate(420.7 588.9) scale(0.87 1) translate(-420.7 -588.9)">1</text>
<line x1="449.94" y1="576.2" x2="449.94" y2="579.4" stroke="#111" stroke-width="1.2"/>
<text x="449.94" y="588.9" font-size="8.5" font-weight="bold" text-anchor="middle" fill="#111" stroke="#111" stroke-width="0.22" transform="translate(449.94 588.9) scale(0.87 1) translate(-449.94 -588.9)">2</text>
<line x1="479.18" y1="576.2" x2="479.18" y2="579.4" stroke="#111" stroke-width="1.2"/>
<text x="479.18" y="588.9" font-size="8.5" font-weight="bold" text-anchor="middle" fill="#111" stroke="#111" stroke-width="0.22" transform="translate(479.18 588.9) scale(0.87 1) translate(-479.18 -588.9)">3</text>
<line x1="508.42" y1="576.2" x2="508.42" y2="579.4" stroke="#111" stroke-width="1.2"/>
<text x="508.42" y="588.9" font-size="8.5" font-weight="bold" text-anchor="middle" fill="#111" stroke="#111" stroke-width="0.22" transform="translate(508.42 588.9) scale(0.87 1) translate(-508.42 -588.9)">4</text>
<line x1="537.66" y1="576.2" x2="537.66" y2="579.4" stroke="#111" stroke-width="1.2"/>
<text x="537.66" y="588.9" font-size="8.5" font-weight="bold" text-anchor="middle" fill="#111" stroke="#111" stroke-width="0.22" transform="translate(537.66 588.9) scale(0.87 1) translate(-537.66 -588.9)">5</text>
<line x1="566.9" y1="576.2" x2="566.9" y2="579.4" stroke="#111" stroke-width="1.2"/>
<text x="566.9" y="588.9" font-size="8.5" font-weight="bold" text-anchor="middle" fill="#111" stroke="#111" stroke-width="0.22" transform="translate(566.9 588.9) scale(0.87 1) translate(-566.9 -588.9)">6</text>
<text x="382.3" y="520.3" font-size="10" font-weight="bold" text-anchor="middle" fill="#111" stroke="#111" stroke-width="0.22" transform="rotate(-90 382.3 520.3)">Escape Latency (s)</text>
<text x="493.7" y="599.8" font-size="9.2" font-weight="bold" text-anchor="middle" fill="#111" stroke="#111" stroke-width="0.22">Time (day)</text>
<line x1="488" y1="432.4" x2="488" y2="500.5" stroke="#222" stroke-width="1"/>
<path d="M481.6 457.8L481.6 460.7M482.86 458.52L480.34 459.98M482.86 459.98L480.34 458.52" stroke="#111" stroke-width="1.15" stroke-linecap="round"/>
<path d="M481.6 462.3L481.6 465.2M482.86 463.02L480.34 464.48M482.86 464.48L480.34 463.02" stroke="#111" stroke-width="1.15" stroke-linecap="round"/>
<path d="M481.6 466.8L481.6 469.7M482.86 467.52L480.34 468.98M482.86 468.98L480.34 467.52" stroke="#111" stroke-width="1.15" stroke-linecap="round"/>
<path d="M481.6 471.3L481.6 474.2M482.86 472.02L480.34 473.48M482.86 473.48L480.34 472.02" stroke="#111" stroke-width="1.15" stroke-linecap="round"/>
<line x1="498.5" y1="458.4" x2="498.5" y2="500.5" stroke="#222" stroke-width="1"/>
<path d="M492.2 477.85L492.2 480.75M493.46 478.57L490.94 480.03M493.46 480.03L490.94 478.57" stroke="#111" stroke-width="1.15" stroke-linecap="round"/>
<line x1="512.5" y1="472.3" x2="512.5" y2="500.5" stroke="#222" stroke-width="1"/>
<path d="M505.7 477.8L505.7 480.7M506.96 478.52L504.44 479.98M506.96 479.98L504.44 478.52" stroke="#111" stroke-width="1.15" stroke-linecap="round"/>
<path d="M505.7 482.3L505.7 485.2M506.96 483.02L504.44 484.48M506.96 484.48L504.44 483.02" stroke="#111" stroke-width="1.15" stroke-linecap="round"/>
<path d="M505.7 486.8L505.7 489.7M506.96 487.52L504.44 488.98M506.96 488.98L504.44 487.52" stroke="#111" stroke-width="1.15" stroke-linecap="round"/>
<path d="M505.7 491.3L505.7 494.2M506.96 492.02L504.44 493.48M506.96 493.48L504.44 492.02" stroke="#111" stroke-width="1.15" stroke-linecap="round"/>
<line x1="521.5" y1="432.2" x2="521.5" y2="486.2" stroke="#222" stroke-width="1"/>
<path d="M515 450.2L515 453.1M516.26 450.92L513.74 452.38M516.26 452.38L513.74 450.92" stroke="#111" stroke-width="1.15" stroke-linecap="round"/>
<path d="M515 454.7L515 457.6M516.26 455.42L513.74 456.88M516.26 456.88L513.74 455.42" stroke="#111" stroke-width="1.15" stroke-linecap="round"/>
<path d="M515 459.2L515 462.1M516.26 459.92L513.74 461.38M516.26 461.38L513.74 459.92" stroke="#111" stroke-width="1.15" stroke-linecap="round"/>
<path d="M515 463.7L515 466.6M516.26 464.42L513.74 465.88M516.26 465.88L513.74 464.42" stroke="#111" stroke-width="1.15" stroke-linecap="round"/>
<line x1="533.5" y1="458.4" x2="533.5" y2="486.2" stroke="#222" stroke-width="1"/>
<path d="M527 470.85L527 473.75M528.26 471.57L525.74 473.03M528.26 473.03L525.74 471.57" stroke="#111" stroke-width="1.15" stroke-linecap="round"/>
<line x1="546.5" y1="473.2" x2="546.5" y2="486.9" stroke="#222" stroke-width="1"/>
<path d="M540.6 471L540.6 473.9M541.86 471.72L539.34 473.18M541.86 473.18L539.34 471.72" stroke="#111" stroke-width="1.15" stroke-linecap="round"/>
<path d="M540.6 475.5L540.6 478.4M541.86 476.22L539.34 477.68M541.86 477.68L539.34 476.22" stroke="#111" stroke-width="1.15" stroke-linecap="round"/>
<path d="M540.6 480L540.6 482.9M541.86 480.72L539.34 482.18M541.86 482.18L539.34 480.72" stroke="#111" stroke-width="1.15" stroke-linecap="round"/>
<path d="M540.6 484.5L540.6 487.4M541.86 485.22L539.34 486.68M541.86 486.68L539.34 485.22" stroke="#111" stroke-width="1.15" stroke-linecap="round"/>
<line x1="561" y1="432.6" x2="571.6" y2="432.6" stroke="#3e3a72" stroke-width="1.2"/>
<circle cx="566.3" cy="432.6" r="2" fill="#3e3a72"/>
<text x="577" y="435.9" font-size="9" font-weight="bold" text-anchor="start" fill="#111" stroke="#111" stroke-width="0.22">Control</text>
<line x1="561" y1="445.6" x2="571.6" y2="445.6" stroke="#3c7da6" stroke-width="1.2"/>
<circle cx="566.3" cy="445.6" r="2" fill="#3c7da6"/>
<text x="577" y="448.9" font-size="9" font-weight="bold" text-anchor="start" fill="#111" stroke="#111" stroke-width="0.22">AAV-PTBP1+NgR</text>
<line x1="561" y1="458.8" x2="571.6" y2="458.8" stroke="#5b83be" stroke-width="1.2"/>
<circle cx="566.3" cy="458.8" r="2" fill="#5b83be"/>
<text x="577" y="462.1" font-size="9" font-weight="bold" text-anchor="start" fill="#111" stroke="#111" stroke-width="0.22">AAV-PTBP1/SPS</text>
<line x1="561" y1="472.2" x2="571.6" y2="472.2" stroke="#d9b29e" stroke-width="1.2"/>
<circle cx="566.3" cy="472.2" r="2" fill="#d9b29e"/>
<text x="577" y="475.5" font-size="9" font-weight="bold" text-anchor="start" fill="#111" stroke="#111" stroke-width="0.22">AAV-PTBP1+NgR/SPS</text>
<line x1="561" y1="485.6" x2="571.6" y2="485.6" stroke="#dc6e68" stroke-width="1.2"/>
<circle cx="566.3" cy="485.6" r="2" fill="#dc6e68"/>
<text x="577" y="488.9" font-size="9" font-weight="bold" text-anchor="start" fill="#111" stroke="#111" stroke-width="0.22">AAV-Empty/SPS</text>
<line x1="561" y1="498.8" x2="571.6" y2="498.8" stroke="#b8762e" stroke-width="1.2"/>
<circle cx="566.3" cy="498.8" r="2" fill="#b8762e"/>
<text x="577" y="502.1" font-size="9" font-weight="bold" text-anchor="start" fill="#111" stroke="#111" stroke-width="0.22">SPS</text>
<line x1="557.5" y1="432.4" x2="557.5" y2="445.1" stroke="#222" stroke-width="1"/>
<text x="552.7" y="438.75" font-size="8.2" font-weight="normal" text-anchor="middle" fill="#111" transform="rotate(-90 552.7 438.75)">ns</text>
<line x1="557.5" y1="459.3" x2="557.5" y2="472.3" stroke="#222" stroke-width="1"/>
<text x="552.7" y="465.8" font-size="8.2" font-weight="normal" text-anchor="middle" fill="#111" transform="rotate(-90 552.7 465.8)">ns</text>
<line x1="557.5" y1="486.5" x2="557.5" y2="499.2" stroke="#222" stroke-width="1"/>
<text x="552.7" y="492.85" font-size="8.2" font-weight="normal" text-anchor="middle" fill="#111" transform="rotate(-90 552.7 492.85)">ns</text>
</svg>
</body></html>
